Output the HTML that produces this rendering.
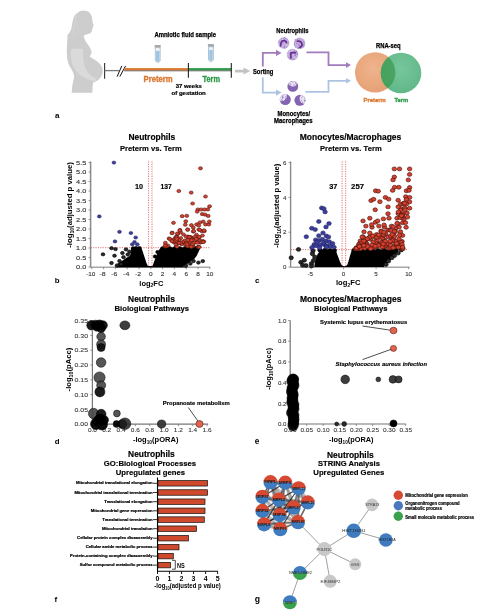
<!DOCTYPE html>
<html><head><meta charset="utf-8"><style>
html,body{margin:0;padding:0;background:#fff;width:496px;height:616px;overflow:hidden}
svg{display:block;font-family:"Liberation Sans", sans-serif;will-change:transform}
</style></head><body>
<svg width="496" height="616" viewBox="0 0 496 616" font-family="Liberation Sans, sans-serif">
<rect width="496" height="616" fill="#fff"/>
<path d="M83.6,10.5 C87.8,10.4 91.2,13.2 91.8,17 C92.3,19.3 92.6,21.6 92.9,23.3 L93.7,25.3 C93.5,26.2 92.7,26.6 92.7,27.4 C92.8,28.3 92.5,29 92.1,29.6 C91.9,31 91.5,32.4 90.6,32.9 C89.6,33.6 88.1,33.7 87.1,34.2 C85.9,34.7 84.4,35 83.7,35.8 C84.1,38 84.9,40 85.9,41.7 C87.9,44.5 90.3,47.5 91.1,50.3 C91.8,52.5 91.7,54 90.7,55 C90.1,55.6 89.6,56.2 90.3,57 C92.1,58.3 94.1,59.2 96.6,61 C100.1,63.5 102.4,66.5 102.7,69.8 C103,73.5 101.6,77 98.9,79.4 C97.1,80.9 95.1,81.8 93.1,82.6 C92.7,86 92.3,89.5 92.4,92.8 L71.7,92.8 C71.8,89.5 72.3,86.5 72.6,84 C73.2,81 74.2,78.5 74,76.3 C73.8,73.5 72.6,71 71,68.5 C69.2,65.8 67.6,62 67.1,57.5 C66.7,53.5 66.8,48 67.1,43.5 C67.3,40 67.4,37 67.6,34.8 C69.5,33 71,30.5 71.6,27.5 C72.2,24 72.6,20 73.8,17 C74.8,14.8 76,13.6 77.2,13.2 C78.8,11.5 81,10.6 83.6,10.5 Z" fill="#cdcdcd"/>
<path d="M77.6,13.6 C76,15.5 75.3,18.5 75,22 C74.7,26 73.9,30 72,33.2" fill="none" stroke="#dedede" stroke-width="0.5"/>
<path d="M76.6,21 C76.6,25 77.3,28.6 78.6,31 C76.5,33.5 74,35 71.6,36.2" fill="none" stroke="#d9d9d9" stroke-width="0.4"/>
<path d="M70.9,49.2 C74.5,48.2 79,48.2 82.9,48.9 C83,53 83.2,57 83.5,60.6 C84,64 84.8,67 86,69.6 C87.6,72.6 89.8,75 92.3,76.6 C93.8,77.6 95.3,78.3 96.7,78.8 L95.2,81.2 C92.8,81 90.7,80.4 89,79.6 C85.3,78.4 81.5,76.3 78.6,73.5 C75.5,70.5 72.8,67 71.8,63.3 C71,59 70.7,54 70.9,49.2 Z" fill="#dadada"/>
<line x1="104.60" y1="63.10" x2="104.60" y2="78.80" stroke="#333" stroke-width="1.1"/>
<line x1="104.60" y1="70.60" x2="119.00" y2="70.60" stroke="#777" stroke-width="1.3"/>
<line x1="117.10" y1="76.60" x2="121.80" y2="65.90" stroke="#111" stroke-width="1"/>
<line x1="119.80" y1="76.60" x2="125.60" y2="65.90" stroke="#111" stroke-width="1"/>
<rect x="124.2" y="70.2" width="107.1" height="1.1" fill="#666"/>
<rect x="124.2" y="68.1" width="64.2" height="2.2" fill="#d9772e"/>
<rect x="188.4" y="68.1" width="42.9" height="2.2" fill="#2e9a4a"/>
<line x1="188.40" y1="63.00" x2="188.40" y2="77.80" stroke="#222" stroke-width="1.1"/>
<line x1="231.30" y1="63.00" x2="231.30" y2="77.80" stroke="#222" stroke-width="1.1"/>
<path d="M235,69.7 L243.6,69.7 L243.6,67.6 L250.2,71.1 L243.6,74.6 L243.6,72.5 L235,72.5 Z" fill="#c2c2c2"/>
<rect x="154.70" y="44.90" width="6.1" height="2.6" rx="0.5" fill="#a9a9a9"/>
<path d="M155.30,47.50 L160.20,47.50 L160.20,60.70 Q157.75,64.10 155.30,60.70 Z" fill="#e8f1f8" stroke="#8da2b4" stroke-width="0.6"/>
<path d="M156.00,50.90 L159.50,50.90 L159.50,60.40 Q157.75,62.90 156.00,60.40 Z" fill="#9cc6e4"/>
<rect x="207.90" y="44.10" width="6.1" height="2.6" rx="0.5" fill="#a9a9a9"/>
<path d="M208.50,46.70 L213.40,46.70 L213.40,59.90 Q210.95,63.30 208.50,59.90 Z" fill="#e8f1f8" stroke="#8da2b4" stroke-width="0.6"/>
<path d="M209.20,50.10 L212.70,50.10 L212.70,59.60 Q210.95,62.10 209.20,59.60 Z" fill="#9cc6e4"/>
<text x="154.40" y="37.20" font-size="6.3" font-weight="bold" fill="#000" text-anchor="start" stroke="#000" stroke-width="0.25" textLength="61.60" lengthAdjust="spacingAndGlyphs">Amniotic fluid sample</text>
<text x="143.60" y="81.70" font-size="8.6" font-weight="bold" fill="#d9772e" text-anchor="start" stroke="#d9772e" stroke-width="0.35" textLength="29.10" lengthAdjust="spacingAndGlyphs">Preterm</text>
<text x="202.60" y="81.60" font-size="8.6" font-weight="bold" fill="#2e9a4a" text-anchor="start" stroke="#2e9a4a" stroke-width="0.35" textLength="17.40" lengthAdjust="spacingAndGlyphs">Term</text>
<text x="175.80" y="87.90" font-size="6.2" font-weight="bold" fill="#000" text-anchor="start" stroke="#000" stroke-width="0.2" textLength="25.90" lengthAdjust="spacingAndGlyphs">37 weeks</text>
<text x="171.50" y="94.70" font-size="6.2" font-weight="bold" fill="#000" text-anchor="start" stroke="#000" stroke-width="0.2" textLength="34.30" lengthAdjust="spacingAndGlyphs">of gestation</text>
<text x="253.00" y="74.20" font-size="6.4" font-weight="bold" fill="#000" text-anchor="start" stroke="#000" stroke-width="0.25" textLength="20.30" lengthAdjust="spacingAndGlyphs">Sorting</text>
<text x="276.30" y="32.70" font-size="6.4" font-weight="bold" fill="#000" text-anchor="start" stroke="#000" stroke-width="0.25" textLength="32.20" lengthAdjust="spacingAndGlyphs">Neutrophils</text>
<text x="277.60" y="116.20" font-size="6.4" font-weight="bold" fill="#000" text-anchor="start" stroke="#000" stroke-width="0.25" textLength="32.50" lengthAdjust="spacingAndGlyphs">Monocytes/</text>
<text x="274.10" y="123.30" font-size="6.4" font-weight="bold" fill="#000" text-anchor="start" stroke="#000" stroke-width="0.25" textLength="38.40" lengthAdjust="spacingAndGlyphs">Macrophages</text>
<text x="376.00" y="48.40" font-size="6.4" font-weight="bold" fill="#000" text-anchor="start" stroke="#000" stroke-width="0.25" textLength="24.60" lengthAdjust="spacingAndGlyphs">RNA-seq</text>
<text x="363.50" y="102.30" font-size="6.2" font-weight="bold" fill="#d9772e" text-anchor="start" stroke="#d9772e" stroke-width="0.3" textLength="22.30" lengthAdjust="spacingAndGlyphs">Preterm</text>
<text x="394.50" y="102.30" font-size="6.2" font-weight="bold" fill="#2e9a4a" text-anchor="start" stroke="#2e9a4a" stroke-width="0.3" textLength="13.80" lengthAdjust="spacingAndGlyphs">Term</text>
<text x="54.90" y="117.50" font-size="8" font-weight="bold" fill="#000" text-anchor="start">a</text>
<path d="M262.8,66.4 L262.8,52.9 L277,52.9" fill="none" stroke="#a27bbd" stroke-width="1.8"/>
<path d="M276,49.8 L281.6,52.9 L276,56 Z" fill="#a27bbd"/>
<path d="M262.8,77.5 L262.8,92.6 L277,92.6" fill="none" stroke="#adc3e3" stroke-width="1.8"/>
<path d="M276,89.5 L281.6,92.6 L276,95.7 Z" fill="#adc3e3"/>
<path d="M306.5,52.4 L328.5,52.4 L328.5,65.1 L346.5,65.1" fill="none" stroke="#a27bbd" stroke-width="1.8"/>
<path d="M346,62.3 L351,65.1 L346,67.9 Z" fill="#a27bbd"/>
<path d="M305.5,91.8 L328.5,91.8 L328.5,80.8 L346.5,80.8" fill="none" stroke="#adc3e3" stroke-width="1.8"/>
<path d="M346,78 L351,80.8 L346,83.6 Z" fill="#adc3e3"/>
<circle cx="283.70" cy="43.00" r="5.80" fill="#c3b1dd" stroke="none" stroke-width="0"/>
<circle cx="283.14" cy="42.33" r="0.42" fill="#a98bcc" stroke="none" stroke-width="0"/>
<circle cx="284.83" cy="44.36" r="0.54" fill="#9876c0" stroke="none" stroke-width="0"/>
<circle cx="282.87" cy="42.47" r="0.37" fill="#a98bcc" stroke="none" stroke-width="0"/>
<circle cx="282.80" cy="42.97" r="0.40" fill="#8e68b8" stroke="none" stroke-width="0"/>
<circle cx="284.48" cy="47.16" r="0.55" fill="#9876c0" stroke="none" stroke-width="0"/>
<circle cx="283.82" cy="40.80" r="0.46" fill="#e2d8ef" stroke="none" stroke-width="0"/>
<circle cx="286.72" cy="47.47" r="0.43" fill="#9876c0" stroke="none" stroke-width="0"/>
<circle cx="281.29" cy="45.26" r="0.44" fill="#e2d8ef" stroke="none" stroke-width="0"/>
<circle cx="285.35" cy="38.59" r="0.48" fill="#8e68b8" stroke="none" stroke-width="0"/>
<circle cx="286.33" cy="44.42" r="0.51" fill="#e2d8ef" stroke="none" stroke-width="0"/>
<circle cx="279.61" cy="40.84" r="0.36" fill="#a98bcc" stroke="none" stroke-width="0"/>
<circle cx="284.49" cy="37.59" r="0.56" fill="#9876c0" stroke="none" stroke-width="0"/>
<circle cx="280.99" cy="45.54" r="0.56" fill="#a98bcc" stroke="none" stroke-width="0"/>
<circle cx="281.97" cy="44.84" r="0.42" fill="#9876c0" stroke="none" stroke-width="0"/>
<circle cx="281.94" cy="41.56" r="0.53" fill="#a98bcc" stroke="none" stroke-width="0"/>
<circle cx="280.92" cy="43.67" r="0.58" fill="#a98bcc" stroke="none" stroke-width="0"/>
<circle cx="281.68" cy="38.36" r="0.54" fill="#a98bcc" stroke="none" stroke-width="0"/>
<circle cx="285.86" cy="38.55" r="0.45" fill="#9876c0" stroke="none" stroke-width="0"/>
<circle cx="285.00" cy="48.19" r="0.57" fill="#e2d8ef" stroke="none" stroke-width="0"/>
<circle cx="284.61" cy="46.79" r="0.57" fill="#8e68b8" stroke="none" stroke-width="0"/>
<circle cx="284.98" cy="44.61" r="0.54" fill="#e2d8ef" stroke="none" stroke-width="0"/>
<circle cx="283.63" cy="39.39" r="0.50" fill="#e2d8ef" stroke="none" stroke-width="0"/>
<circle cx="284.75" cy="48.40" r="0.48" fill="#9876c0" stroke="none" stroke-width="0"/>
<circle cx="283.89" cy="37.89" r="0.39" fill="#a98bcc" stroke="none" stroke-width="0"/>
<circle cx="284.64" cy="39.54" r="0.37" fill="#8e68b8" stroke="none" stroke-width="0"/>
<circle cx="280.59" cy="40.86" r="0.41" fill="#9876c0" stroke="none" stroke-width="0"/>
<circle cx="282.91" cy="41.31" r="0.57" fill="#e2d8ef" stroke="none" stroke-width="0"/>
<circle cx="284.07" cy="39.81" r="0.42" fill="#a98bcc" stroke="none" stroke-width="0"/>
<circle cx="278.54" cy="44.54" r="0.57" fill="#e2d8ef" stroke="none" stroke-width="0"/>
<circle cx="288.43" cy="42.15" r="0.48" fill="#9876c0" stroke="none" stroke-width="0"/>
<circle cx="285.77" cy="40.81" r="0.51" fill="#a98bcc" stroke="none" stroke-width="0"/>
<circle cx="286.46" cy="46.94" r="0.48" fill="#9876c0" stroke="none" stroke-width="0"/>
<circle cx="280.57" cy="40.76" r="0.38" fill="#e2d8ef" stroke="none" stroke-width="0"/>
<circle cx="287.34" cy="39.53" r="0.43" fill="#9876c0" stroke="none" stroke-width="0"/>
<circle cx="283.94" cy="47.14" r="0.37" fill="#8e68b8" stroke="none" stroke-width="0"/>
<circle cx="285.90" cy="38.01" r="0.48" fill="#a98bcc" stroke="none" stroke-width="0"/>
<circle cx="286.33" cy="45.74" r="0.49" fill="#e2d8ef" stroke="none" stroke-width="0"/>
<circle cx="279.47" cy="42.26" r="0.59" fill="#a98bcc" stroke="none" stroke-width="0"/>
<circle cx="282.90" cy="39.61" r="0.52" fill="#e2d8ef" stroke="none" stroke-width="0"/>
<circle cx="280.03" cy="44.50" r="0.38" fill="#a98bcc" stroke="none" stroke-width="0"/>
<path d="M280.6,45.8 C280.8,42.5 282,40.7 283.4,40.6 C285,40.5 286.2,41.5 286.5,42.7" fill="none" stroke="#6a2e92" stroke-width="1.7" stroke-linecap="round" stroke-linejoin="round"/>
<circle cx="299.50" cy="43.40" r="5.80" fill="#c3b1dd" stroke="none" stroke-width="0"/>
<circle cx="300.24" cy="43.71" r="0.49" fill="#a98bcc" stroke="none" stroke-width="0"/>
<circle cx="304.13" cy="43.61" r="0.36" fill="#9876c0" stroke="none" stroke-width="0"/>
<circle cx="303.73" cy="40.54" r="0.37" fill="#a98bcc" stroke="none" stroke-width="0"/>
<circle cx="298.82" cy="47.18" r="0.48" fill="#8e68b8" stroke="none" stroke-width="0"/>
<circle cx="299.67" cy="47.19" r="0.45" fill="#9876c0" stroke="none" stroke-width="0"/>
<circle cx="302.47" cy="45.47" r="0.46" fill="#8e68b8" stroke="none" stroke-width="0"/>
<circle cx="300.34" cy="42.43" r="0.51" fill="#9876c0" stroke="none" stroke-width="0"/>
<circle cx="303.87" cy="45.15" r="0.55" fill="#9876c0" stroke="none" stroke-width="0"/>
<circle cx="299.52" cy="45.80" r="0.46" fill="#8e68b8" stroke="none" stroke-width="0"/>
<circle cx="301.02" cy="46.83" r="0.57" fill="#9876c0" stroke="none" stroke-width="0"/>
<circle cx="294.71" cy="45.19" r="0.49" fill="#9876c0" stroke="none" stroke-width="0"/>
<circle cx="297.16" cy="40.09" r="0.35" fill="#9876c0" stroke="none" stroke-width="0"/>
<circle cx="304.04" cy="41.13" r="0.39" fill="#8e68b8" stroke="none" stroke-width="0"/>
<circle cx="294.41" cy="44.00" r="0.58" fill="#a98bcc" stroke="none" stroke-width="0"/>
<circle cx="295.54" cy="47.17" r="0.42" fill="#8e68b8" stroke="none" stroke-width="0"/>
<circle cx="298.49" cy="47.89" r="0.53" fill="#8e68b8" stroke="none" stroke-width="0"/>
<circle cx="301.19" cy="45.88" r="0.59" fill="#9876c0" stroke="none" stroke-width="0"/>
<circle cx="299.48" cy="42.08" r="0.50" fill="#a98bcc" stroke="none" stroke-width="0"/>
<circle cx="303.18" cy="44.77" r="0.56" fill="#9876c0" stroke="none" stroke-width="0"/>
<circle cx="295.76" cy="40.85" r="0.41" fill="#9876c0" stroke="none" stroke-width="0"/>
<circle cx="303.38" cy="41.91" r="0.49" fill="#9876c0" stroke="none" stroke-width="0"/>
<circle cx="296.89" cy="40.97" r="0.50" fill="#e2d8ef" stroke="none" stroke-width="0"/>
<circle cx="301.78" cy="42.41" r="0.53" fill="#a98bcc" stroke="none" stroke-width="0"/>
<circle cx="299.30" cy="45.38" r="0.51" fill="#8e68b8" stroke="none" stroke-width="0"/>
<circle cx="297.57" cy="47.77" r="0.37" fill="#8e68b8" stroke="none" stroke-width="0"/>
<circle cx="296.51" cy="40.55" r="0.37" fill="#a98bcc" stroke="none" stroke-width="0"/>
<circle cx="297.50" cy="43.33" r="0.44" fill="#9876c0" stroke="none" stroke-width="0"/>
<circle cx="301.93" cy="41.10" r="0.39" fill="#e2d8ef" stroke="none" stroke-width="0"/>
<circle cx="295.32" cy="39.87" r="0.51" fill="#9876c0" stroke="none" stroke-width="0"/>
<circle cx="297.48" cy="39.83" r="0.58" fill="#9876c0" stroke="none" stroke-width="0"/>
<circle cx="301.37" cy="42.64" r="0.38" fill="#9876c0" stroke="none" stroke-width="0"/>
<circle cx="299.40" cy="41.23" r="0.42" fill="#a98bcc" stroke="none" stroke-width="0"/>
<circle cx="299.00" cy="40.97" r="0.51" fill="#e2d8ef" stroke="none" stroke-width="0"/>
<circle cx="296.74" cy="43.31" r="0.58" fill="#9876c0" stroke="none" stroke-width="0"/>
<circle cx="302.50" cy="45.37" r="0.42" fill="#9876c0" stroke="none" stroke-width="0"/>
<circle cx="298.50" cy="45.12" r="0.59" fill="#a98bcc" stroke="none" stroke-width="0"/>
<circle cx="299.27" cy="39.31" r="0.46" fill="#9876c0" stroke="none" stroke-width="0"/>
<circle cx="303.59" cy="46.86" r="0.52" fill="#a98bcc" stroke="none" stroke-width="0"/>
<circle cx="294.67" cy="41.98" r="0.50" fill="#a98bcc" stroke="none" stroke-width="0"/>
<circle cx="298.48" cy="43.88" r="0.44" fill="#9876c0" stroke="none" stroke-width="0"/>
<path d="M297.3,41.2 C299.5,40.6 301.6,41.8 302,43.8 C302.2,45.5 301.3,46.8 299.9,47.6" fill="none" stroke="#6a2e92" stroke-width="1.7" stroke-linecap="round" stroke-linejoin="round"/>
<circle cx="292.50" cy="54.60" r="5.80" fill="#c3b1dd" stroke="none" stroke-width="0"/>
<circle cx="294.53" cy="53.10" r="0.41" fill="#9876c0" stroke="none" stroke-width="0"/>
<circle cx="290.00" cy="57.88" r="0.57" fill="#a98bcc" stroke="none" stroke-width="0"/>
<circle cx="294.89" cy="53.39" r="0.39" fill="#a98bcc" stroke="none" stroke-width="0"/>
<circle cx="293.14" cy="54.01" r="0.53" fill="#e2d8ef" stroke="none" stroke-width="0"/>
<circle cx="293.21" cy="51.14" r="0.52" fill="#a98bcc" stroke="none" stroke-width="0"/>
<circle cx="291.98" cy="59.46" r="0.38" fill="#9876c0" stroke="none" stroke-width="0"/>
<circle cx="294.14" cy="52.58" r="0.55" fill="#8e68b8" stroke="none" stroke-width="0"/>
<circle cx="289.57" cy="58.64" r="0.57" fill="#a98bcc" stroke="none" stroke-width="0"/>
<circle cx="294.89" cy="54.96" r="0.43" fill="#9876c0" stroke="none" stroke-width="0"/>
<circle cx="295.35" cy="54.00" r="0.51" fill="#8e68b8" stroke="none" stroke-width="0"/>
<circle cx="290.33" cy="50.03" r="0.43" fill="#9876c0" stroke="none" stroke-width="0"/>
<circle cx="296.56" cy="58.20" r="0.39" fill="#e2d8ef" stroke="none" stroke-width="0"/>
<circle cx="296.63" cy="55.61" r="0.44" fill="#e2d8ef" stroke="none" stroke-width="0"/>
<circle cx="287.46" cy="56.73" r="0.38" fill="#a98bcc" stroke="none" stroke-width="0"/>
<circle cx="292.36" cy="59.24" r="0.35" fill="#a98bcc" stroke="none" stroke-width="0"/>
<circle cx="291.54" cy="55.70" r="0.52" fill="#e2d8ef" stroke="none" stroke-width="0"/>
<circle cx="289.29" cy="51.46" r="0.38" fill="#e2d8ef" stroke="none" stroke-width="0"/>
<circle cx="288.00" cy="54.40" r="0.43" fill="#e2d8ef" stroke="none" stroke-width="0"/>
<circle cx="290.23" cy="53.79" r="0.52" fill="#8e68b8" stroke="none" stroke-width="0"/>
<circle cx="290.19" cy="49.90" r="0.50" fill="#e2d8ef" stroke="none" stroke-width="0"/>
<circle cx="288.32" cy="57.40" r="0.43" fill="#a98bcc" stroke="none" stroke-width="0"/>
<circle cx="288.70" cy="56.39" r="0.51" fill="#8e68b8" stroke="none" stroke-width="0"/>
<circle cx="288.27" cy="56.22" r="0.48" fill="#a98bcc" stroke="none" stroke-width="0"/>
<circle cx="290.91" cy="52.13" r="0.52" fill="#e2d8ef" stroke="none" stroke-width="0"/>
<circle cx="296.98" cy="57.58" r="0.41" fill="#e2d8ef" stroke="none" stroke-width="0"/>
<circle cx="292.89" cy="57.03" r="0.36" fill="#a98bcc" stroke="none" stroke-width="0"/>
<circle cx="296.79" cy="54.17" r="0.54" fill="#8e68b8" stroke="none" stroke-width="0"/>
<circle cx="288.74" cy="56.84" r="0.40" fill="#8e68b8" stroke="none" stroke-width="0"/>
<circle cx="289.78" cy="54.70" r="0.51" fill="#9876c0" stroke="none" stroke-width="0"/>
<circle cx="296.49" cy="51.41" r="0.57" fill="#8e68b8" stroke="none" stroke-width="0"/>
<circle cx="293.46" cy="59.45" r="0.52" fill="#8e68b8" stroke="none" stroke-width="0"/>
<circle cx="295.11" cy="55.45" r="0.56" fill="#8e68b8" stroke="none" stroke-width="0"/>
<circle cx="295.01" cy="57.39" r="0.48" fill="#e2d8ef" stroke="none" stroke-width="0"/>
<circle cx="297.45" cy="52.99" r="0.50" fill="#8e68b8" stroke="none" stroke-width="0"/>
<circle cx="294.48" cy="51.03" r="0.57" fill="#8e68b8" stroke="none" stroke-width="0"/>
<circle cx="287.96" cy="56.07" r="0.56" fill="#e2d8ef" stroke="none" stroke-width="0"/>
<circle cx="292.89" cy="50.64" r="0.51" fill="#e2d8ef" stroke="none" stroke-width="0"/>
<circle cx="288.17" cy="56.32" r="0.41" fill="#e2d8ef" stroke="none" stroke-width="0"/>
<circle cx="290.78" cy="58.27" r="0.38" fill="#a98bcc" stroke="none" stroke-width="0"/>
<circle cx="290.90" cy="56.04" r="0.40" fill="#8e68b8" stroke="none" stroke-width="0"/>
<path d="M290.9,58 L290.8,52.8 L295.4,52.7" fill="none" stroke="#6a2e92" stroke-width="1.7" stroke-linecap="round" stroke-linejoin="round"/>
<clipPath id="mc29286"><circle cx="292.8" cy="86.4" r="5.4"/></clipPath>
<circle cx="292.80" cy="86.40" r="5.40" fill="#8363b2" stroke="none" stroke-width="0"/>
<g clip-path="url(#mc29286)">
<circle cx="292.80" cy="81.27" r="5.13" fill="#e9e2f2" stroke="none" stroke-width="0"/>
<circle cx="289.64" cy="83.34" r="0.45" fill="#7b54aa" stroke="none" stroke-width="0"/>
<circle cx="294.39" cy="78.49" r="0.54" fill="#6a4699" stroke="none" stroke-width="0"/>
<circle cx="297.58" cy="81.86" r="0.49" fill="#9a7cc4" stroke="none" stroke-width="0"/>
<circle cx="295.84" cy="81.38" r="0.54" fill="#9a7cc4" stroke="none" stroke-width="0"/>
<circle cx="288.53" cy="80.22" r="0.55" fill="#7b54aa" stroke="none" stroke-width="0"/>
<circle cx="290.13" cy="81.47" r="0.47" fill="#9a7cc4" stroke="none" stroke-width="0"/>
<circle cx="290.62" cy="84.89" r="0.45" fill="#7b54aa" stroke="none" stroke-width="0"/>
<circle cx="295.45" cy="77.12" r="0.60" fill="#6a4699" stroke="none" stroke-width="0"/>
<circle cx="295.97" cy="81.81" r="0.49" fill="#7b54aa" stroke="none" stroke-width="0"/>
<circle cx="295.70" cy="82.96" r="0.57" fill="#7b54aa" stroke="none" stroke-width="0"/>
<circle cx="295.80" cy="82.25" r="0.40" fill="#9a7cc4" stroke="none" stroke-width="0"/>
<circle cx="290.29" cy="85.37" r="0.42" fill="#9a7cc4" stroke="none" stroke-width="0"/>
<circle cx="292.78" cy="82.74" r="0.35" fill="#6a4699" stroke="none" stroke-width="0"/>
<circle cx="297.54" cy="82.88" r="0.41" fill="#7b54aa" stroke="none" stroke-width="0"/>
<circle cx="293.61" cy="77.21" r="0.54" fill="#7b54aa" stroke="none" stroke-width="0"/>
<circle cx="293.03" cy="81.97" r="0.39" fill="#7b54aa" stroke="none" stroke-width="0"/>
<circle cx="291.09" cy="81.56" r="0.59" fill="#9a7cc4" stroke="none" stroke-width="0"/>
<circle cx="291.40" cy="77.00" r="0.39" fill="#6a4699" stroke="none" stroke-width="0"/>
<circle cx="297.04" cy="80.29" r="0.54" fill="#7b54aa" stroke="none" stroke-width="0"/>
<circle cx="294.45" cy="80.90" r="0.36" fill="#9a7cc4" stroke="none" stroke-width="0"/>
<circle cx="288.46" cy="79.03" r="0.44" fill="#6a4699" stroke="none" stroke-width="0"/>
<circle cx="294.06" cy="85.01" r="0.56" fill="#7b54aa" stroke="none" stroke-width="0"/>
<circle cx="296.42" cy="83.96" r="0.56" fill="#6a4699" stroke="none" stroke-width="0"/>
<circle cx="294.36" cy="76.97" r="0.49" fill="#7b54aa" stroke="none" stroke-width="0"/>
<circle cx="290.87" cy="84.02" r="0.44" fill="#6a4699" stroke="none" stroke-width="0"/>
<circle cx="292.45" cy="80.81" r="0.46" fill="#9a7cc4" stroke="none" stroke-width="0"/>
</g>
<clipPath id="mc28599"><circle cx="285.3" cy="99.6" r="5.5"/></clipPath>
<circle cx="285.30" cy="99.60" r="5.50" fill="#8363b2" stroke="none" stroke-width="0"/>
<g clip-path="url(#mc28599)">
<circle cx="281.61" cy="95.91" r="5.22" fill="#e9e2f2" stroke="none" stroke-width="0"/>
<circle cx="285.64" cy="99.06" r="0.51" fill="#9a7cc4" stroke="none" stroke-width="0"/>
<circle cx="280.69" cy="92.58" r="0.53" fill="#6a4699" stroke="none" stroke-width="0"/>
<circle cx="281.01" cy="100.57" r="0.48" fill="#9a7cc4" stroke="none" stroke-width="0"/>
<circle cx="276.97" cy="96.94" r="0.50" fill="#9a7cc4" stroke="none" stroke-width="0"/>
<circle cx="284.45" cy="92.08" r="0.37" fill="#9a7cc4" stroke="none" stroke-width="0"/>
<circle cx="281.74" cy="99.46" r="0.50" fill="#9a7cc4" stroke="none" stroke-width="0"/>
<circle cx="279.71" cy="99.05" r="0.43" fill="#9a7cc4" stroke="none" stroke-width="0"/>
<circle cx="282.71" cy="100.44" r="0.44" fill="#6a4699" stroke="none" stroke-width="0"/>
<circle cx="280.78" cy="93.29" r="0.35" fill="#7b54aa" stroke="none" stroke-width="0"/>
<circle cx="285.41" cy="98.18" r="0.47" fill="#7b54aa" stroke="none" stroke-width="0"/>
<circle cx="280.07" cy="92.00" r="0.47" fill="#7b54aa" stroke="none" stroke-width="0"/>
<circle cx="283.66" cy="97.26" r="0.52" fill="#9a7cc4" stroke="none" stroke-width="0"/>
<circle cx="279.97" cy="93.18" r="0.49" fill="#9a7cc4" stroke="none" stroke-width="0"/>
<circle cx="277.58" cy="97.94" r="0.43" fill="#6a4699" stroke="none" stroke-width="0"/>
<circle cx="278.83" cy="96.73" r="0.41" fill="#6a4699" stroke="none" stroke-width="0"/>
<circle cx="282.24" cy="97.60" r="0.48" fill="#6a4699" stroke="none" stroke-width="0"/>
<circle cx="282.57" cy="98.14" r="0.47" fill="#6a4699" stroke="none" stroke-width="0"/>
<circle cx="277.75" cy="93.47" r="0.50" fill="#7b54aa" stroke="none" stroke-width="0"/>
<circle cx="283.02" cy="93.44" r="0.44" fill="#9a7cc4" stroke="none" stroke-width="0"/>
<circle cx="285.41" cy="96.24" r="0.42" fill="#7b54aa" stroke="none" stroke-width="0"/>
<circle cx="277.48" cy="94.47" r="0.38" fill="#9a7cc4" stroke="none" stroke-width="0"/>
<circle cx="282.07" cy="96.25" r="0.42" fill="#9a7cc4" stroke="none" stroke-width="0"/>
<circle cx="279.52" cy="96.73" r="0.36" fill="#9a7cc4" stroke="none" stroke-width="0"/>
<circle cx="282.61" cy="96.78" r="0.47" fill="#6a4699" stroke="none" stroke-width="0"/>
<circle cx="280.77" cy="95.03" r="0.39" fill="#6a4699" stroke="none" stroke-width="0"/>
<circle cx="283.05" cy="95.43" r="0.41" fill="#6a4699" stroke="none" stroke-width="0"/>
</g>
<clipPath id="mc299100"><circle cx="299.9" cy="100.3" r="5.5"/></clipPath>
<circle cx="299.90" cy="100.30" r="5.50" fill="#8363b2" stroke="none" stroke-width="0"/>
<g clip-path="url(#mc299100)">
<circle cx="304.81" cy="98.51" r="5.22" fill="#e9e2f2" stroke="none" stroke-width="0"/>
<circle cx="305.18" cy="94.46" r="0.55" fill="#7b54aa" stroke="none" stroke-width="0"/>
<circle cx="305.33" cy="95.33" r="0.58" fill="#9a7cc4" stroke="none" stroke-width="0"/>
<circle cx="308.13" cy="94.51" r="0.43" fill="#6a4699" stroke="none" stroke-width="0"/>
<circle cx="309.57" cy="100.40" r="0.37" fill="#7b54aa" stroke="none" stroke-width="0"/>
<circle cx="302.92" cy="96.61" r="0.37" fill="#7b54aa" stroke="none" stroke-width="0"/>
<circle cx="305.47" cy="99.78" r="0.35" fill="#9a7cc4" stroke="none" stroke-width="0"/>
<circle cx="303.48" cy="95.19" r="0.36" fill="#9a7cc4" stroke="none" stroke-width="0"/>
<circle cx="303.64" cy="94.29" r="0.46" fill="#6a4699" stroke="none" stroke-width="0"/>
<circle cx="305.09" cy="101.19" r="0.55" fill="#6a4699" stroke="none" stroke-width="0"/>
<circle cx="302.14" cy="94.23" r="0.46" fill="#6a4699" stroke="none" stroke-width="0"/>
<circle cx="305.13" cy="100.50" r="0.42" fill="#7b54aa" stroke="none" stroke-width="0"/>
<circle cx="306.73" cy="99.44" r="0.43" fill="#6a4699" stroke="none" stroke-width="0"/>
<circle cx="307.07" cy="94.03" r="0.46" fill="#9a7cc4" stroke="none" stroke-width="0"/>
<circle cx="303.17" cy="94.46" r="0.59" fill="#6a4699" stroke="none" stroke-width="0"/>
<circle cx="301.46" cy="97.65" r="0.50" fill="#9a7cc4" stroke="none" stroke-width="0"/>
<circle cx="304.42" cy="94.47" r="0.36" fill="#7b54aa" stroke="none" stroke-width="0"/>
<circle cx="309.45" cy="97.38" r="0.49" fill="#7b54aa" stroke="none" stroke-width="0"/>
<circle cx="309.09" cy="98.50" r="0.42" fill="#7b54aa" stroke="none" stroke-width="0"/>
<circle cx="304.99" cy="96.33" r="0.48" fill="#9a7cc4" stroke="none" stroke-width="0"/>
<circle cx="306.73" cy="97.39" r="0.50" fill="#6a4699" stroke="none" stroke-width="0"/>
<circle cx="306.83" cy="93.78" r="0.47" fill="#9a7cc4" stroke="none" stroke-width="0"/>
<circle cx="302.67" cy="102.22" r="0.56" fill="#9a7cc4" stroke="none" stroke-width="0"/>
<circle cx="301.68" cy="100.45" r="0.52" fill="#9a7cc4" stroke="none" stroke-width="0"/>
<circle cx="306.32" cy="94.94" r="0.46" fill="#9a7cc4" stroke="none" stroke-width="0"/>
<circle cx="304.78" cy="100.29" r="0.54" fill="#6a4699" stroke="none" stroke-width="0"/>
<circle cx="304.89" cy="98.35" r="0.57" fill="#9a7cc4" stroke="none" stroke-width="0"/>
</g>
<defs><radialGradient id="go" cx="0.45" cy="0.4" r="0.6"><stop offset="0" stop-color="#efb48e"/><stop offset="1" stop-color="#e6a175"/></radialGradient><radialGradient id="gg" cx="0.5" cy="0.4" r="0.6"><stop offset="0" stop-color="#6dc296"/><stop offset="1" stop-color="#55b27f"/></radialGradient></defs>
<circle cx="375.20" cy="72.40" r="20.20" fill="url(#go)" stroke="none" stroke-width="0"/>
<circle cx="401.00" cy="73.00" r="20.30" fill="url(#gg)" stroke="none" stroke-width="0" opacity="0.93"/>
<path d="M388.38,57.1 A20.2,20.2 0 0 1 387.66,88.3 A20.3,20.3 0 0 1 388.38,57.1 Z" fill="#3a9a50" opacity="0.7"/>
<line x1="90.60" y1="161.50" x2="90.60" y2="267.50" stroke="#8a8a8a" stroke-width="1.5"/>
<line x1="88.60" y1="267.00" x2="90.60" y2="267.00" stroke="#777" stroke-width="0.8"/>
<text x="86.30" y="269.20" font-size="6.2" font-weight="normal" fill="#333" text-anchor="end" stroke="#333" stroke-width="0.12" textLength="10.20" lengthAdjust="spacingAndGlyphs">0.0</text>
<line x1="88.60" y1="257.50" x2="90.60" y2="257.50" stroke="#777" stroke-width="0.8"/>
<text x="86.30" y="259.70" font-size="6.2" font-weight="normal" fill="#333" text-anchor="end" stroke="#333" stroke-width="0.12" textLength="10.20" lengthAdjust="spacingAndGlyphs">0.5</text>
<line x1="88.60" y1="248.00" x2="90.60" y2="248.00" stroke="#777" stroke-width="0.8"/>
<text x="86.30" y="250.20" font-size="6.2" font-weight="normal" fill="#333" text-anchor="end" stroke="#333" stroke-width="0.12" textLength="10.20" lengthAdjust="spacingAndGlyphs">1.0</text>
<line x1="88.60" y1="238.50" x2="90.60" y2="238.50" stroke="#777" stroke-width="0.8"/>
<text x="86.30" y="240.70" font-size="6.2" font-weight="normal" fill="#333" text-anchor="end" stroke="#333" stroke-width="0.12" textLength="10.20" lengthAdjust="spacingAndGlyphs">1.5</text>
<line x1="88.60" y1="229.00" x2="90.60" y2="229.00" stroke="#777" stroke-width="0.8"/>
<text x="86.30" y="231.20" font-size="6.2" font-weight="normal" fill="#333" text-anchor="end" stroke="#333" stroke-width="0.12" textLength="10.20" lengthAdjust="spacingAndGlyphs">2.0</text>
<line x1="88.60" y1="219.50" x2="90.60" y2="219.50" stroke="#777" stroke-width="0.8"/>
<text x="86.30" y="221.70" font-size="6.2" font-weight="normal" fill="#333" text-anchor="end" stroke="#333" stroke-width="0.12" textLength="10.20" lengthAdjust="spacingAndGlyphs">2.5</text>
<line x1="88.60" y1="210.00" x2="90.60" y2="210.00" stroke="#777" stroke-width="0.8"/>
<text x="86.30" y="212.20" font-size="6.2" font-weight="normal" fill="#333" text-anchor="end" stroke="#333" stroke-width="0.12" textLength="10.20" lengthAdjust="spacingAndGlyphs">3.0</text>
<line x1="88.60" y1="200.50" x2="90.60" y2="200.50" stroke="#777" stroke-width="0.8"/>
<text x="86.30" y="202.70" font-size="6.2" font-weight="normal" fill="#333" text-anchor="end" stroke="#333" stroke-width="0.12" textLength="10.20" lengthAdjust="spacingAndGlyphs">3.5</text>
<line x1="88.60" y1="191.00" x2="90.60" y2="191.00" stroke="#777" stroke-width="0.8"/>
<text x="86.30" y="193.20" font-size="6.2" font-weight="normal" fill="#333" text-anchor="end" stroke="#333" stroke-width="0.12" textLength="10.20" lengthAdjust="spacingAndGlyphs">4.0</text>
<line x1="88.60" y1="181.50" x2="90.60" y2="181.50" stroke="#777" stroke-width="0.8"/>
<text x="86.30" y="183.70" font-size="6.2" font-weight="normal" fill="#333" text-anchor="end" stroke="#333" stroke-width="0.12" textLength="10.20" lengthAdjust="spacingAndGlyphs">4.5</text>
<line x1="88.60" y1="172.00" x2="90.60" y2="172.00" stroke="#777" stroke-width="0.8"/>
<text x="86.30" y="174.20" font-size="6.2" font-weight="normal" fill="#333" text-anchor="end" stroke="#333" stroke-width="0.12" textLength="10.20" lengthAdjust="spacingAndGlyphs">5.0</text>
<line x1="88.60" y1="162.50" x2="90.60" y2="162.50" stroke="#777" stroke-width="0.8"/>
<text x="86.30" y="164.70" font-size="6.2" font-weight="normal" fill="#333" text-anchor="end" stroke="#333" stroke-width="0.12" textLength="10.20" lengthAdjust="spacingAndGlyphs">5.5</text>
<line x1="90.60" y1="267.20" x2="210.20" y2="267.20" stroke="#a8a8a8" stroke-width="1.4"/>
<line x1="91.80" y1="267.20" x2="91.80" y2="269.20" stroke="#777" stroke-width="0.8"/>
<text x="90.80" y="275.80" font-size="6" font-weight="normal" fill="#333" text-anchor="middle" stroke="#333" stroke-width="0.1" textLength="9.20" lengthAdjust="spacingAndGlyphs">-10</text>
<line x1="103.60" y1="267.20" x2="103.60" y2="269.20" stroke="#777" stroke-width="0.8"/>
<text x="102.60" y="275.80" font-size="6" font-weight="normal" fill="#333" text-anchor="middle" stroke="#333" stroke-width="0.1" textLength="6.20" lengthAdjust="spacingAndGlyphs">-8</text>
<line x1="115.40" y1="267.20" x2="115.40" y2="269.20" stroke="#777" stroke-width="0.8"/>
<text x="114.40" y="275.80" font-size="6" font-weight="normal" fill="#333" text-anchor="middle" stroke="#333" stroke-width="0.1" textLength="6.20" lengthAdjust="spacingAndGlyphs">-6</text>
<line x1="127.20" y1="267.20" x2="127.20" y2="269.20" stroke="#777" stroke-width="0.8"/>
<text x="126.20" y="275.80" font-size="6" font-weight="normal" fill="#333" text-anchor="middle" stroke="#333" stroke-width="0.1" textLength="6.20" lengthAdjust="spacingAndGlyphs">-4</text>
<line x1="139.00" y1="267.20" x2="139.00" y2="269.20" stroke="#777" stroke-width="0.8"/>
<text x="138.00" y="275.80" font-size="6" font-weight="normal" fill="#333" text-anchor="middle" stroke="#333" stroke-width="0.1" textLength="6.20" lengthAdjust="spacingAndGlyphs">-2</text>
<line x1="150.80" y1="267.20" x2="150.80" y2="269.20" stroke="#777" stroke-width="0.8"/>
<text x="150.80" y="275.80" font-size="6" font-weight="normal" fill="#333" text-anchor="middle" stroke="#333" stroke-width="0.1" textLength="3.60" lengthAdjust="spacingAndGlyphs">0</text>
<line x1="162.60" y1="267.20" x2="162.60" y2="269.20" stroke="#777" stroke-width="0.8"/>
<text x="162.60" y="275.80" font-size="6" font-weight="normal" fill="#333" text-anchor="middle" stroke="#333" stroke-width="0.1" textLength="3.60" lengthAdjust="spacingAndGlyphs">2</text>
<line x1="174.40" y1="267.20" x2="174.40" y2="269.20" stroke="#777" stroke-width="0.8"/>
<text x="174.40" y="275.80" font-size="6" font-weight="normal" fill="#333" text-anchor="middle" stroke="#333" stroke-width="0.1" textLength="3.60" lengthAdjust="spacingAndGlyphs">4</text>
<line x1="186.20" y1="267.20" x2="186.20" y2="269.20" stroke="#777" stroke-width="0.8"/>
<text x="186.20" y="275.80" font-size="6" font-weight="normal" fill="#333" text-anchor="middle" stroke="#333" stroke-width="0.1" textLength="3.60" lengthAdjust="spacingAndGlyphs">6</text>
<line x1="198.00" y1="267.20" x2="198.00" y2="269.20" stroke="#777" stroke-width="0.8"/>
<text x="198.00" y="275.80" font-size="6" font-weight="normal" fill="#333" text-anchor="middle" stroke="#333" stroke-width="0.1" textLength="3.60" lengthAdjust="spacingAndGlyphs">8</text>
<line x1="209.80" y1="267.20" x2="209.80" y2="269.20" stroke="#777" stroke-width="0.8"/>
<text x="209.80" y="275.80" font-size="6" font-weight="normal" fill="#333" text-anchor="middle" stroke="#333" stroke-width="0.1" textLength="7.20" lengthAdjust="spacingAndGlyphs">10</text>
<g stroke="#d9534f" stroke-width="0.8" stroke-dasharray="1.2,1.2" fill="none"><line x1="148.6" y1="161.4" x2="148.6" y2="267"/><line x1="152" y1="161.4" x2="152" y2="267"/><line x1="90.6" y1="247.7" x2="209.3" y2="247.7"/></g>
<path d="M115.5,267 L116.5,264.5 L120,262.2 L124,259.5 L127,257.5 L130,255.8 L130.8,252 L131.2,248.6 L132.6,247.5 L140.6,247.5 L141.8,248.8 L143.2,253 L145,258.5 L146.8,264 L148,266 L152.5,266 L153.8,262.5 L155.6,257.5 L157.6,252.5 L159.6,249 L161.2,247.6 L198.8,247.6 L199.4,249.2 L198.4,252.2 L196.6,256 L194,259.2 L191.1,261.3 L188.5,263 L186.3,264.5 L184.5,265.8 L183,267 Z" fill="#000"/>
<path d="M115.5,267.2 L186.6,267.2" stroke="#000" stroke-width="0.6"/>
<ellipse cx="103.00" cy="254.30" rx="1.90" ry="1.65" fill="#2a2a2a" stroke="#000" stroke-width="0.6"/>
<ellipse cx="111.50" cy="248.20" rx="1.90" ry="1.65" fill="#2a2a2a" stroke="#000" stroke-width="0.6"/>
<ellipse cx="115.50" cy="249.10" rx="1.90" ry="1.65" fill="#2a2a2a" stroke="#000" stroke-width="0.6"/>
<ellipse cx="114.50" cy="255.70" rx="1.90" ry="1.65" fill="#2a2a2a" stroke="#000" stroke-width="0.6"/>
<ellipse cx="111.50" cy="263.00" rx="1.90" ry="1.65" fill="#2a2a2a" stroke="#000" stroke-width="0.6"/>
<ellipse cx="122.40" cy="253.00" rx="1.90" ry="1.65" fill="#2a2a2a" stroke="#000" stroke-width="0.6"/>
<ellipse cx="126.00" cy="249.40" rx="1.90" ry="1.65" fill="#2a2a2a" stroke="#000" stroke-width="0.6"/>
<ellipse cx="117.00" cy="265.40" rx="1.90" ry="1.65" fill="#2a2a2a" stroke="#000" stroke-width="0.6"/>
<ellipse cx="119.50" cy="261.00" rx="1.90" ry="1.65" fill="#2a2a2a" stroke="#000" stroke-width="0.6"/>
<ellipse cx="123.50" cy="257.20" rx="1.90" ry="1.65" fill="#2a2a2a" stroke="#000" stroke-width="0.6"/>
<ellipse cx="127.80" cy="254.50" rx="1.90" ry="1.65" fill="#2a2a2a" stroke="#000" stroke-width="0.6"/>
<ellipse cx="121.00" cy="264.20" rx="1.90" ry="1.65" fill="#2a2a2a" stroke="#000" stroke-width="0.6"/>
<ellipse cx="129.50" cy="251.60" rx="1.90" ry="1.65" fill="#2a2a2a" stroke="#000" stroke-width="0.6"/>
<ellipse cx="198.40" cy="262.60" rx="1.90" ry="1.65" fill="#2a2a2a" stroke="#000" stroke-width="0.6"/>
<ellipse cx="202.80" cy="261.10" rx="1.90" ry="1.65" fill="#2a2a2a" stroke="#000" stroke-width="0.6"/>
<ellipse cx="190.30" cy="263.60" rx="1.90" ry="1.65" fill="#2a2a2a" stroke="#000" stroke-width="0.6"/>
<ellipse cx="186.00" cy="265.60" rx="1.90" ry="1.65" fill="#2a2a2a" stroke="#000" stroke-width="0.6"/>
<ellipse cx="193.50" cy="261.00" rx="1.90" ry="1.65" fill="#2a2a2a" stroke="#000" stroke-width="0.6"/>
<ellipse cx="133.00" cy="248.20" rx="1.90" ry="1.65" fill="#000" stroke="#000" stroke-width="0.4"/>
<ellipse cx="136.00" cy="247.90" rx="1.90" ry="1.65" fill="#000" stroke="#000" stroke-width="0.4"/>
<ellipse cx="139.50" cy="248.00" rx="1.90" ry="1.65" fill="#000" stroke="#000" stroke-width="0.4"/>
<ellipse cx="162.50" cy="248.20" rx="1.90" ry="1.65" fill="#000" stroke="#000" stroke-width="0.4"/>
<ellipse cx="166.00" cy="247.90" rx="1.90" ry="1.65" fill="#000" stroke="#000" stroke-width="0.4"/>
<ellipse cx="170.00" cy="248.10" rx="1.90" ry="1.65" fill="#000" stroke="#000" stroke-width="0.4"/>
<ellipse cx="175.00" cy="247.90" rx="1.90" ry="1.65" fill="#000" stroke="#000" stroke-width="0.4"/>
<ellipse cx="180.00" cy="248.10" rx="1.90" ry="1.65" fill="#000" stroke="#000" stroke-width="0.4"/>
<ellipse cx="185.00" cy="247.90" rx="1.90" ry="1.65" fill="#000" stroke="#000" stroke-width="0.4"/>
<ellipse cx="190.00" cy="248.10" rx="1.90" ry="1.65" fill="#000" stroke="#000" stroke-width="0.4"/>
<ellipse cx="195.00" cy="248.00" rx="1.90" ry="1.65" fill="#000" stroke="#000" stroke-width="0.4"/>
<ellipse cx="197.50" cy="249.30" rx="1.90" ry="1.65" fill="#000" stroke="#000" stroke-width="0.4"/>
<ellipse cx="155.00" cy="256.50" rx="1.90" ry="1.65" fill="#000" stroke="#000" stroke-width="0.4"/>
<ellipse cx="157.50" cy="252.00" rx="1.90" ry="1.65" fill="#000" stroke="#000" stroke-width="0.4"/>
<ellipse cx="113.90" cy="162.60" rx="1.90" ry="1.60" fill="#3d3f9e" stroke="#1c1d55" stroke-width="0.5"/>
<ellipse cx="99.30" cy="216.40" rx="1.90" ry="1.60" fill="#3d3f9e" stroke="#1c1d55" stroke-width="0.5"/>
<ellipse cx="119.50" cy="231.80" rx="1.90" ry="1.60" fill="#3d3f9e" stroke="#1c1d55" stroke-width="0.5"/>
<ellipse cx="130.90" cy="233.00" rx="1.90" ry="1.60" fill="#3d3f9e" stroke="#1c1d55" stroke-width="0.5"/>
<ellipse cx="135.70" cy="237.50" rx="1.90" ry="1.60" fill="#3d3f9e" stroke="#1c1d55" stroke-width="0.5"/>
<ellipse cx="115.00" cy="241.40" rx="1.90" ry="1.60" fill="#3d3f9e" stroke="#1c1d55" stroke-width="0.5"/>
<ellipse cx="134.50" cy="242.00" rx="1.90" ry="1.60" fill="#3d3f9e" stroke="#1c1d55" stroke-width="0.5"/>
<ellipse cx="132.30" cy="244.30" rx="1.90" ry="1.60" fill="#3d3f9e" stroke="#1c1d55" stroke-width="0.5"/>
<ellipse cx="137.30" cy="244.30" rx="1.90" ry="1.60" fill="#3d3f9e" stroke="#1c1d55" stroke-width="0.5"/>
<ellipse cx="200.50" cy="168.30" rx="1.95" ry="1.60" fill="#d8412f" stroke="#4a140e" stroke-width="0.6"/>
<ellipse cx="178.80" cy="191.00" rx="1.95" ry="1.60" fill="#d8412f" stroke="#4a140e" stroke-width="0.6"/>
<ellipse cx="191.20" cy="192.60" rx="1.95" ry="1.60" fill="#d8412f" stroke="#4a140e" stroke-width="0.6"/>
<ellipse cx="205.50" cy="196.50" rx="1.95" ry="1.60" fill="#d8412f" stroke="#4a140e" stroke-width="0.6"/>
<ellipse cx="192.60" cy="203.50" rx="1.95" ry="1.60" fill="#d8412f" stroke="#4a140e" stroke-width="0.6"/>
<ellipse cx="209.60" cy="206.30" rx="1.95" ry="1.60" fill="#d8412f" stroke="#4a140e" stroke-width="0.6"/>
<ellipse cx="197.90" cy="209.50" rx="1.95" ry="1.60" fill="#d8412f" stroke="#4a140e" stroke-width="0.6"/>
<ellipse cx="201.20" cy="209.50" rx="1.95" ry="1.60" fill="#d8412f" stroke="#4a140e" stroke-width="0.6"/>
<ellipse cx="204.60" cy="209.50" rx="1.95" ry="1.60" fill="#d8412f" stroke="#4a140e" stroke-width="0.6"/>
<ellipse cx="207.80" cy="209.40" rx="1.95" ry="1.60" fill="#d8412f" stroke="#4a140e" stroke-width="0.6"/>
<ellipse cx="197.20" cy="211.60" rx="1.95" ry="1.60" fill="#d8412f" stroke="#4a140e" stroke-width="0.6"/>
<ellipse cx="202.20" cy="214.10" rx="1.95" ry="1.60" fill="#d8412f" stroke="#4a140e" stroke-width="0.6"/>
<ellipse cx="205.00" cy="214.60" rx="1.95" ry="1.60" fill="#d8412f" stroke="#4a140e" stroke-width="0.6"/>
<ellipse cx="182.20" cy="216.20" rx="1.95" ry="1.60" fill="#d8412f" stroke="#4a140e" stroke-width="0.6"/>
<ellipse cx="186.80" cy="215.80" rx="1.95" ry="1.60" fill="#d8412f" stroke="#4a140e" stroke-width="0.6"/>
<ellipse cx="208.20" cy="215.90" rx="1.95" ry="1.60" fill="#d8412f" stroke="#4a140e" stroke-width="0.6"/>
<ellipse cx="173.50" cy="222.80" rx="1.95" ry="1.60" fill="#d8412f" stroke="#4a140e" stroke-width="0.6"/>
<ellipse cx="185.80" cy="221.30" rx="1.95" ry="1.60" fill="#d8412f" stroke="#4a140e" stroke-width="0.6"/>
<ellipse cx="185.30" cy="224.70" rx="1.95" ry="1.60" fill="#d8412f" stroke="#4a140e" stroke-width="0.6"/>
<ellipse cx="191.40" cy="225.20" rx="1.95" ry="1.60" fill="#d8412f" stroke="#4a140e" stroke-width="0.6"/>
<ellipse cx="196.60" cy="224.40" rx="1.95" ry="1.60" fill="#d8412f" stroke="#4a140e" stroke-width="0.6"/>
<ellipse cx="199.90" cy="222.50" rx="1.95" ry="1.60" fill="#d8412f" stroke="#4a140e" stroke-width="0.6"/>
<ellipse cx="203.20" cy="221.60" rx="1.95" ry="1.60" fill="#d8412f" stroke="#4a140e" stroke-width="0.6"/>
<ellipse cx="205.50" cy="224.40" rx="1.95" ry="1.60" fill="#d8412f" stroke="#4a140e" stroke-width="0.6"/>
<ellipse cx="208.80" cy="224.40" rx="1.95" ry="1.60" fill="#d8412f" stroke="#4a140e" stroke-width="0.6"/>
<ellipse cx="209.30" cy="221.60" rx="1.95" ry="1.60" fill="#d8412f" stroke="#4a140e" stroke-width="0.6"/>
<ellipse cx="198.80" cy="225.50" rx="1.95" ry="1.60" fill="#d8412f" stroke="#4a140e" stroke-width="0.6"/>
<ellipse cx="193.30" cy="227.70" rx="1.95" ry="1.60" fill="#d8412f" stroke="#4a140e" stroke-width="0.6"/>
<ellipse cx="180.00" cy="230.00" rx="1.95" ry="1.60" fill="#d8412f" stroke="#4a140e" stroke-width="0.6"/>
<ellipse cx="187.70" cy="229.60" rx="1.95" ry="1.60" fill="#d8412f" stroke="#4a140e" stroke-width="0.6"/>
<ellipse cx="193.30" cy="231.60" rx="1.95" ry="1.60" fill="#d8412f" stroke="#4a140e" stroke-width="0.6"/>
<ellipse cx="198.80" cy="229.60" rx="1.95" ry="1.60" fill="#d8412f" stroke="#4a140e" stroke-width="0.6"/>
<ellipse cx="201.60" cy="231.10" rx="1.95" ry="1.60" fill="#d8412f" stroke="#4a140e" stroke-width="0.6"/>
<ellipse cx="204.40" cy="231.10" rx="1.95" ry="1.60" fill="#d8412f" stroke="#4a140e" stroke-width="0.6"/>
<ellipse cx="172.20" cy="232.70" rx="1.95" ry="1.60" fill="#d8412f" stroke="#4a140e" stroke-width="0.6"/>
<ellipse cx="177.70" cy="234.00" rx="1.95" ry="1.60" fill="#d8412f" stroke="#4a140e" stroke-width="0.6"/>
<ellipse cx="180.50" cy="232.20" rx="1.95" ry="1.60" fill="#d8412f" stroke="#4a140e" stroke-width="0.6"/>
<ellipse cx="188.30" cy="237.20" rx="1.95" ry="1.60" fill="#d8412f" stroke="#4a140e" stroke-width="0.6"/>
<ellipse cx="172.00" cy="233.20" rx="1.95" ry="1.60" fill="#d8412f" stroke="#4a140e" stroke-width="0.6"/>
<ellipse cx="177.40" cy="233.50" rx="1.95" ry="1.60" fill="#d8412f" stroke="#4a140e" stroke-width="0.6"/>
<ellipse cx="179.80" cy="230.40" rx="1.95" ry="1.60" fill="#d8412f" stroke="#4a140e" stroke-width="0.6"/>
<ellipse cx="187.60" cy="229.60" rx="1.95" ry="1.60" fill="#d8412f" stroke="#4a140e" stroke-width="0.6"/>
<ellipse cx="193.70" cy="231.00" rx="1.95" ry="1.60" fill="#d8412f" stroke="#4a140e" stroke-width="0.6"/>
<ellipse cx="199.70" cy="229.80" rx="1.95" ry="1.60" fill="#d8412f" stroke="#4a140e" stroke-width="0.6"/>
<ellipse cx="204.00" cy="230.40" rx="1.95" ry="1.60" fill="#d8412f" stroke="#4a140e" stroke-width="0.6"/>
<ellipse cx="187.60" cy="236.90" rx="1.95" ry="1.60" fill="#d8412f" stroke="#4a140e" stroke-width="0.6"/>
<ellipse cx="183.50" cy="234.50" rx="1.95" ry="1.60" fill="#d8412f" stroke="#4a140e" stroke-width="0.6"/>
<ellipse cx="196.50" cy="234.80" rx="1.95" ry="1.60" fill="#d8412f" stroke="#4a140e" stroke-width="0.6"/>
<ellipse cx="169.00" cy="238.50" rx="1.95" ry="1.60" fill="#d8412f" stroke="#4a140e" stroke-width="0.6"/>
<ellipse cx="202.50" cy="235.50" rx="1.95" ry="1.60" fill="#d8412f" stroke="#4a140e" stroke-width="0.6"/>
<ellipse cx="173.90" cy="242.32" rx="1.95" ry="1.60" fill="#d8412f" stroke="#4a140e" stroke-width="0.6"/>
<ellipse cx="179.11" cy="242.96" rx="1.95" ry="1.60" fill="#d8412f" stroke="#4a140e" stroke-width="0.6"/>
<ellipse cx="189.22" cy="237.20" rx="1.95" ry="1.60" fill="#d8412f" stroke="#4a140e" stroke-width="0.6"/>
<ellipse cx="165.02" cy="246.51" rx="1.95" ry="1.60" fill="#d8412f" stroke="#4a140e" stroke-width="0.6"/>
<ellipse cx="174.74" cy="239.01" rx="1.95" ry="1.60" fill="#d8412f" stroke="#4a140e" stroke-width="0.6"/>
<ellipse cx="203.83" cy="241.53" rx="1.95" ry="1.60" fill="#d8412f" stroke="#4a140e" stroke-width="0.6"/>
<ellipse cx="197.54" cy="241.60" rx="1.95" ry="1.60" fill="#d8412f" stroke="#4a140e" stroke-width="0.6"/>
<ellipse cx="189.74" cy="238.11" rx="1.95" ry="1.60" fill="#d8412f" stroke="#4a140e" stroke-width="0.6"/>
<ellipse cx="189.58" cy="245.79" rx="1.95" ry="1.60" fill="#d8412f" stroke="#4a140e" stroke-width="0.6"/>
<ellipse cx="185.17" cy="244.43" rx="1.95" ry="1.60" fill="#d8412f" stroke="#4a140e" stroke-width="0.6"/>
<ellipse cx="191.02" cy="237.19" rx="1.95" ry="1.60" fill="#d8412f" stroke="#4a140e" stroke-width="0.6"/>
<ellipse cx="194.45" cy="242.82" rx="1.95" ry="1.60" fill="#d8412f" stroke="#4a140e" stroke-width="0.6"/>
<ellipse cx="176.40" cy="236.83" rx="1.95" ry="1.60" fill="#d8412f" stroke="#4a140e" stroke-width="0.6"/>
<ellipse cx="198.69" cy="241.56" rx="1.95" ry="1.60" fill="#d8412f" stroke="#4a140e" stroke-width="0.6"/>
<ellipse cx="192.89" cy="245.90" rx="1.95" ry="1.60" fill="#d8412f" stroke="#4a140e" stroke-width="0.6"/>
<ellipse cx="192.71" cy="246.36" rx="1.95" ry="1.60" fill="#d8412f" stroke="#4a140e" stroke-width="0.6"/>
<ellipse cx="199.22" cy="237.54" rx="1.95" ry="1.60" fill="#d8412f" stroke="#4a140e" stroke-width="0.6"/>
<ellipse cx="169.87" cy="238.95" rx="1.95" ry="1.60" fill="#d8412f" stroke="#4a140e" stroke-width="0.6"/>
<ellipse cx="202.64" cy="241.17" rx="1.95" ry="1.60" fill="#d8412f" stroke="#4a140e" stroke-width="0.6"/>
<ellipse cx="189.25" cy="239.72" rx="1.95" ry="1.60" fill="#d8412f" stroke="#4a140e" stroke-width="0.6"/>
<ellipse cx="184.54" cy="240.63" rx="1.95" ry="1.60" fill="#d8412f" stroke="#4a140e" stroke-width="0.6"/>
<ellipse cx="178.36" cy="242.76" rx="1.95" ry="1.60" fill="#d8412f" stroke="#4a140e" stroke-width="0.6"/>
<ellipse cx="187.58" cy="246.17" rx="1.95" ry="1.60" fill="#d8412f" stroke="#4a140e" stroke-width="0.6"/>
<ellipse cx="191.44" cy="246.44" rx="1.95" ry="1.60" fill="#d8412f" stroke="#4a140e" stroke-width="0.6"/>
<ellipse cx="198.33" cy="247.10" rx="1.95" ry="1.60" fill="#d8412f" stroke="#4a140e" stroke-width="0.6"/>
<ellipse cx="191.02" cy="238.25" rx="1.95" ry="1.60" fill="#d8412f" stroke="#4a140e" stroke-width="0.6"/>
<ellipse cx="198.50" cy="246.82" rx="1.95" ry="1.60" fill="#d8412f" stroke="#4a140e" stroke-width="0.6"/>
<ellipse cx="200.24" cy="242.59" rx="1.95" ry="1.60" fill="#d8412f" stroke="#4a140e" stroke-width="0.6"/>
<ellipse cx="192.70" cy="238.76" rx="1.95" ry="1.60" fill="#d8412f" stroke="#4a140e" stroke-width="0.6"/>
<ellipse cx="197.35" cy="242.64" rx="1.95" ry="1.60" fill="#d8412f" stroke="#4a140e" stroke-width="0.6"/>
<ellipse cx="175.76" cy="237.18" rx="1.95" ry="1.60" fill="#d8412f" stroke="#4a140e" stroke-width="0.6"/>
<ellipse cx="198.23" cy="247.09" rx="1.95" ry="1.60" fill="#d8412f" stroke="#4a140e" stroke-width="0.6"/>
<ellipse cx="168.00" cy="245.59" rx="1.95" ry="1.60" fill="#d8412f" stroke="#4a140e" stroke-width="0.6"/>
<ellipse cx="180.71" cy="238.11" rx="1.95" ry="1.60" fill="#d8412f" stroke="#4a140e" stroke-width="0.6"/>
<ellipse cx="176.11" cy="244.73" rx="1.95" ry="1.60" fill="#d8412f" stroke="#4a140e" stroke-width="0.6"/>
<ellipse cx="198.97" cy="236.97" rx="1.95" ry="1.60" fill="#d8412f" stroke="#4a140e" stroke-width="0.6"/>
<ellipse cx="188.77" cy="236.98" rx="1.95" ry="1.60" fill="#d8412f" stroke="#4a140e" stroke-width="0.6"/>
<ellipse cx="192.88" cy="240.04" rx="1.95" ry="1.60" fill="#d8412f" stroke="#4a140e" stroke-width="0.6"/>
<ellipse cx="199.30" cy="246.99" rx="1.95" ry="1.60" fill="#d8412f" stroke="#4a140e" stroke-width="0.6"/>
<ellipse cx="176.73" cy="237.32" rx="1.95" ry="1.60" fill="#d8412f" stroke="#4a140e" stroke-width="0.6"/>
<ellipse cx="188.19" cy="236.84" rx="1.95" ry="1.60" fill="#d8412f" stroke="#4a140e" stroke-width="0.6"/>
<ellipse cx="172.30" cy="240.86" rx="1.95" ry="1.60" fill="#d8412f" stroke="#4a140e" stroke-width="0.6"/>
<ellipse cx="188.61" cy="238.17" rx="1.95" ry="1.60" fill="#d8412f" stroke="#4a140e" stroke-width="0.6"/>
<ellipse cx="166.18" cy="246.44" rx="1.95" ry="1.60" fill="#d8412f" stroke="#4a140e" stroke-width="0.6"/>
<ellipse cx="176.90" cy="246.76" rx="1.95" ry="1.60" fill="#d8412f" stroke="#4a140e" stroke-width="0.6"/>
<ellipse cx="199.92" cy="240.54" rx="1.95" ry="1.60" fill="#d8412f" stroke="#4a140e" stroke-width="0.6"/>
<ellipse cx="182.69" cy="242.06" rx="1.95" ry="1.60" fill="#d8412f" stroke="#4a140e" stroke-width="0.6"/>
<ellipse cx="189.93" cy="242.87" rx="1.95" ry="1.60" fill="#d8412f" stroke="#4a140e" stroke-width="0.6"/>
<ellipse cx="186.59" cy="243.14" rx="1.95" ry="1.60" fill="#d8412f" stroke="#4a140e" stroke-width="0.6"/>
<ellipse cx="201.65" cy="241.93" rx="1.95" ry="1.60" fill="#d8412f" stroke="#4a140e" stroke-width="0.6"/>
<ellipse cx="181.53" cy="244.21" rx="1.95" ry="1.60" fill="#d8412f" stroke="#4a140e" stroke-width="0.6"/>
<ellipse cx="173.89" cy="239.72" rx="1.95" ry="1.60" fill="#d8412f" stroke="#4a140e" stroke-width="0.6"/>
<ellipse cx="203.12" cy="242.08" rx="1.95" ry="1.60" fill="#d8412f" stroke="#4a140e" stroke-width="0.6"/>
<ellipse cx="186.16" cy="236.62" rx="1.95" ry="1.60" fill="#d8412f" stroke="#4a140e" stroke-width="0.6"/>
<ellipse cx="180.90" cy="242.71" rx="1.95" ry="1.60" fill="#d8412f" stroke="#4a140e" stroke-width="0.6"/>
<ellipse cx="165.29" cy="245.44" rx="1.95" ry="1.60" fill="#d8412f" stroke="#4a140e" stroke-width="0.6"/>
<ellipse cx="189.47" cy="237.14" rx="1.95" ry="1.60" fill="#d8412f" stroke="#4a140e" stroke-width="0.6"/>
<ellipse cx="189.28" cy="241.49" rx="1.95" ry="1.60" fill="#d8412f" stroke="#4a140e" stroke-width="0.6"/>
<ellipse cx="191.33" cy="240.27" rx="1.95" ry="1.60" fill="#d8412f" stroke="#4a140e" stroke-width="0.6"/>
<ellipse cx="192.42" cy="244.40" rx="1.95" ry="1.60" fill="#d8412f" stroke="#4a140e" stroke-width="0.6"/>
<ellipse cx="165.38" cy="242.79" rx="1.95" ry="1.60" fill="#d8412f" stroke="#4a140e" stroke-width="0.6"/>
<ellipse cx="191.20" cy="246.81" rx="1.95" ry="1.60" fill="#d8412f" stroke="#4a140e" stroke-width="0.6"/>
<ellipse cx="174.42" cy="241.38" rx="1.95" ry="1.60" fill="#d8412f" stroke="#4a140e" stroke-width="0.6"/>
<ellipse cx="187.91" cy="239.92" rx="1.95" ry="1.60" fill="#d8412f" stroke="#4a140e" stroke-width="0.6"/>
<ellipse cx="178.88" cy="239.85" rx="1.95" ry="1.60" fill="#d8412f" stroke="#4a140e" stroke-width="0.6"/>
<ellipse cx="179.08" cy="242.87" rx="1.95" ry="1.60" fill="#d8412f" stroke="#4a140e" stroke-width="0.6"/>
<ellipse cx="176.37" cy="240.54" rx="1.95" ry="1.60" fill="#d8412f" stroke="#4a140e" stroke-width="0.6"/>
<ellipse cx="195.00" cy="236.79" rx="1.95" ry="1.60" fill="#d8412f" stroke="#4a140e" stroke-width="0.6"/>
<ellipse cx="186.99" cy="244.37" rx="1.95" ry="1.60" fill="#d8412f" stroke="#4a140e" stroke-width="0.6"/>
<ellipse cx="176.75" cy="238.88" rx="1.95" ry="1.60" fill="#d8412f" stroke="#4a140e" stroke-width="0.6"/>
<ellipse cx="196.25" cy="239.05" rx="1.95" ry="1.60" fill="#d8412f" stroke="#4a140e" stroke-width="0.6"/>
<ellipse cx="171.90" cy="241.16" rx="1.95" ry="1.60" fill="#d8412f" stroke="#4a140e" stroke-width="0.6"/>
<text x="134.90" y="188.60" font-size="7.8" font-weight="bold" fill="#000" text-anchor="start" stroke="#000" stroke-width="0.15" textLength="8.10" lengthAdjust="spacingAndGlyphs">10</text>
<text x="160.60" y="188.60" font-size="7.8" font-weight="bold" fill="#000" text-anchor="start" stroke="#000" stroke-width="0.15" textLength="11.30" lengthAdjust="spacingAndGlyphs">137</text>
<text x="128.40" y="140.30" font-size="9" font-weight="bold" fill="#000" text-anchor="start" stroke="#000" stroke-width="0.18" textLength="46.80" lengthAdjust="spacingAndGlyphs">Neutrophils</text>
<text x="120.00" y="150.60" font-size="7.8" font-weight="bold" fill="#000" text-anchor="start" stroke="#000" stroke-width="0.15" textLength="61.80" lengthAdjust="spacingAndGlyphs">Preterm vs. Term</text>
<text x="139.3" y="285.6" font-size="7.5" font-weight="bold" textLength="24" lengthAdjust="spacingAndGlyphs">log<tspan font-size="5" dy="1.8">2</tspan><tspan dy="-1.8">FC</tspan></text>
<text transform="translate(72.4,247.7) rotate(-90)" font-size="7" font-weight="bold" fill="#000" textLength="85.5" lengthAdjust="spacingAndGlyphs">-log<tspan font-size="4.6" dy="1.5">10</tspan><tspan dy="-1.5">(adjusted p value)</tspan></text>
<text x="54.70" y="282.70" font-size="7.8" font-weight="bold" fill="#000" text-anchor="start">b</text>
<line x1="290.60" y1="161.50" x2="290.60" y2="267.50" stroke="#8a8a8a" stroke-width="1.4"/>
<line x1="288.60" y1="267.00" x2="290.60" y2="267.00" stroke="#777" stroke-width="0.8"/>
<text x="286.40" y="269.20" font-size="6.2" font-weight="normal" fill="#333" text-anchor="end" stroke="#333" stroke-width="0.1">0</text>
<line x1="288.60" y1="232.20" x2="290.60" y2="232.20" stroke="#777" stroke-width="0.8"/>
<text x="286.40" y="234.40" font-size="6.2" font-weight="normal" fill="#333" text-anchor="end" stroke="#333" stroke-width="0.1">2</text>
<line x1="288.60" y1="197.40" x2="290.60" y2="197.40" stroke="#777" stroke-width="0.8"/>
<text x="286.40" y="199.60" font-size="6.2" font-weight="normal" fill="#333" text-anchor="end" stroke="#333" stroke-width="0.1">4</text>
<line x1="288.60" y1="162.60" x2="290.60" y2="162.60" stroke="#777" stroke-width="0.8"/>
<text x="286.40" y="164.80" font-size="6.2" font-weight="normal" fill="#333" text-anchor="end" stroke="#333" stroke-width="0.1">6</text>
<line x1="290.60" y1="267.20" x2="409.60" y2="267.20" stroke="#a8a8a8" stroke-width="1.4"/>
<line x1="311.10" y1="267.20" x2="311.10" y2="269.20" stroke="#777" stroke-width="0.8"/>
<text x="310.30" y="275.80" font-size="6.2" font-weight="normal" fill="#333" text-anchor="middle" stroke="#333" stroke-width="0.1">-5</text>
<line x1="343.60" y1="267.20" x2="343.60" y2="269.20" stroke="#777" stroke-width="0.8"/>
<text x="343.60" y="275.80" font-size="6.2" font-weight="normal" fill="#333" text-anchor="middle" stroke="#333" stroke-width="0.1">0</text>
<line x1="376.10" y1="267.20" x2="376.10" y2="269.20" stroke="#777" stroke-width="0.8"/>
<text x="376.10" y="275.80" font-size="6.2" font-weight="normal" fill="#333" text-anchor="middle" stroke="#333" stroke-width="0.1">5</text>
<line x1="408.60" y1="267.20" x2="408.60" y2="269.20" stroke="#777" stroke-width="0.8"/>
<text x="408.60" y="275.80" font-size="6.2" font-weight="normal" fill="#333" text-anchor="middle" stroke="#333" stroke-width="0.1">10</text>
<g stroke="#d9534f" stroke-width="0.8" stroke-dasharray="1.2,1.2" fill="none"><line x1="342.1" y1="161.4" x2="342.1" y2="267"/><line x1="345.7" y1="161.4" x2="345.7" y2="267"/><line x1="290.6" y1="249.6" x2="408.4" y2="249.6"/></g>
<path d="M314.2,267 L315,262 L316.3,257.5 L317.8,253.8 L319.8,251.6 L322.3,249.6 L335.2,249.6 L336.6,252.5 L338.4,257.5 L340.2,262.3 L341.6,265 Q344.4,267.6 347.2,265 L348.4,261.5 L349.8,256.5 L351,252.5 L352.2,249.5 L398.8,249.5 L397.5,252 L394,256 L390,260.5 L386.5,264 L383.8,267 Z" fill="#000"/>
<ellipse cx="298.50" cy="249.40" rx="2.20" ry="1.95" fill="#2a2a2a" stroke="#000" stroke-width="0.6"/>
<ellipse cx="291.20" cy="257.80" rx="2.20" ry="1.95" fill="#2a2a2a" stroke="#000" stroke-width="0.6"/>
<ellipse cx="300.90" cy="262.30" rx="2.20" ry="1.95" fill="#2a2a2a" stroke="#000" stroke-width="0.6"/>
<ellipse cx="304.30" cy="260.20" rx="2.20" ry="1.95" fill="#2a2a2a" stroke="#000" stroke-width="0.6"/>
<ellipse cx="302.70" cy="265.30" rx="2.20" ry="1.95" fill="#2a2a2a" stroke="#000" stroke-width="0.6"/>
<ellipse cx="311.50" cy="263.50" rx="2.20" ry="1.95" fill="#2a2a2a" stroke="#000" stroke-width="0.6"/>
<ellipse cx="311.50" cy="265.90" rx="2.20" ry="1.95" fill="#2a2a2a" stroke="#000" stroke-width="0.6"/>
<ellipse cx="313.00" cy="250.80" rx="2.20" ry="1.95" fill="#2a2a2a" stroke="#000" stroke-width="0.6"/>
<ellipse cx="312.40" cy="253.80" rx="2.20" ry="1.95" fill="#2a2a2a" stroke="#000" stroke-width="0.6"/>
<ellipse cx="314.80" cy="256.90" rx="2.20" ry="1.95" fill="#2a2a2a" stroke="#000" stroke-width="0.6"/>
<ellipse cx="306.00" cy="265.50" rx="2.20" ry="1.95" fill="#2a2a2a" stroke="#000" stroke-width="0.6"/>
<ellipse cx="313.50" cy="260.50" rx="2.20" ry="1.95" fill="#2a2a2a" stroke="#000" stroke-width="0.6"/>
<ellipse cx="401.30" cy="250.00" rx="2.20" ry="1.95" fill="#2a2a2a" stroke="#000" stroke-width="0.6"/>
<ellipse cx="398.10" cy="253.10" rx="2.20" ry="1.95" fill="#2a2a2a" stroke="#000" stroke-width="0.6"/>
<ellipse cx="394.40" cy="255.60" rx="2.20" ry="1.95" fill="#2a2a2a" stroke="#000" stroke-width="0.6"/>
<ellipse cx="391.90" cy="257.80" rx="2.20" ry="1.95" fill="#2a2a2a" stroke="#000" stroke-width="0.6"/>
<ellipse cx="388.50" cy="261.00" rx="2.20" ry="1.95" fill="#2a2a2a" stroke="#000" stroke-width="0.6"/>
<ellipse cx="386.00" cy="264.50" rx="2.20" ry="1.95" fill="#2a2a2a" stroke="#000" stroke-width="0.6"/>
<ellipse cx="320.00" cy="250.30" rx="2.20" ry="1.95" fill="#000" stroke="#000" stroke-width="0.4"/>
<ellipse cx="325.00" cy="250.00" rx="2.20" ry="1.95" fill="#000" stroke="#000" stroke-width="0.4"/>
<ellipse cx="330.00" cy="250.20" rx="2.20" ry="1.95" fill="#000" stroke="#000" stroke-width="0.4"/>
<ellipse cx="334.50" cy="250.40" rx="2.20" ry="1.95" fill="#000" stroke="#000" stroke-width="0.4"/>
<ellipse cx="354.00" cy="250.20" rx="2.20" ry="1.95" fill="#000" stroke="#000" stroke-width="0.4"/>
<ellipse cx="360.00" cy="250.00" rx="2.20" ry="1.95" fill="#000" stroke="#000" stroke-width="0.4"/>
<ellipse cx="366.00" cy="250.20" rx="2.20" ry="1.95" fill="#000" stroke="#000" stroke-width="0.4"/>
<ellipse cx="372.00" cy="250.00" rx="2.20" ry="1.95" fill="#000" stroke="#000" stroke-width="0.4"/>
<ellipse cx="378.00" cy="250.20" rx="2.20" ry="1.95" fill="#000" stroke="#000" stroke-width="0.4"/>
<ellipse cx="384.00" cy="250.00" rx="2.20" ry="1.95" fill="#000" stroke="#000" stroke-width="0.4"/>
<ellipse cx="390.00" cy="250.20" rx="2.20" ry="1.95" fill="#000" stroke="#000" stroke-width="0.4"/>
<ellipse cx="396.00" cy="250.10" rx="2.20" ry="1.95" fill="#000" stroke="#000" stroke-width="0.4"/>
<ellipse cx="321.70" cy="207.90" rx="2.30" ry="2.00" fill="#3d3f9e" stroke="#1c1d55" stroke-width="0.5"/>
<ellipse cx="323.90" cy="208.70" rx="2.30" ry="2.00" fill="#3d3f9e" stroke="#1c1d55" stroke-width="0.5"/>
<ellipse cx="325.10" cy="211.90" rx="2.30" ry="2.00" fill="#3d3f9e" stroke="#1c1d55" stroke-width="0.5"/>
<ellipse cx="318.80" cy="221.50" rx="2.30" ry="2.00" fill="#3d3f9e" stroke="#1c1d55" stroke-width="0.5"/>
<ellipse cx="329.00" cy="223.60" rx="2.30" ry="2.00" fill="#3d3f9e" stroke="#1c1d55" stroke-width="0.5"/>
<ellipse cx="326.00" cy="226.90" rx="2.30" ry="2.00" fill="#3d3f9e" stroke="#1c1d55" stroke-width="0.5"/>
<ellipse cx="311.80" cy="228.20" rx="2.30" ry="2.00" fill="#3d3f9e" stroke="#1c1d55" stroke-width="0.5"/>
<ellipse cx="315.20" cy="229.60" rx="2.30" ry="2.00" fill="#3d3f9e" stroke="#1c1d55" stroke-width="0.5"/>
<ellipse cx="323.00" cy="232.90" rx="2.30" ry="2.00" fill="#3d3f9e" stroke="#1c1d55" stroke-width="0.5"/>
<ellipse cx="306.30" cy="236.70" rx="2.30" ry="2.00" fill="#3d3f9e" stroke="#1c1d55" stroke-width="0.5"/>
<ellipse cx="318.80" cy="235.70" rx="2.30" ry="2.00" fill="#3d3f9e" stroke="#1c1d55" stroke-width="0.5"/>
<ellipse cx="326.30" cy="236.00" rx="2.30" ry="2.00" fill="#3d3f9e" stroke="#1c1d55" stroke-width="0.5"/>
<ellipse cx="328.50" cy="236.90" rx="2.30" ry="2.00" fill="#3d3f9e" stroke="#1c1d55" stroke-width="0.5"/>
<ellipse cx="315.60" cy="239.90" rx="2.30" ry="2.00" fill="#3d3f9e" stroke="#1c1d55" stroke-width="0.5"/>
<ellipse cx="319.00" cy="240.50" rx="2.30" ry="2.00" fill="#3d3f9e" stroke="#1c1d55" stroke-width="0.5"/>
<ellipse cx="322.40" cy="239.30" rx="2.30" ry="2.00" fill="#3d3f9e" stroke="#1c1d55" stroke-width="0.5"/>
<ellipse cx="326.30" cy="241.10" rx="2.30" ry="2.00" fill="#3d3f9e" stroke="#1c1d55" stroke-width="0.5"/>
<ellipse cx="329.30" cy="241.70" rx="2.30" ry="2.00" fill="#3d3f9e" stroke="#1c1d55" stroke-width="0.5"/>
<ellipse cx="314.20" cy="244.50" rx="2.30" ry="2.00" fill="#3d3f9e" stroke="#1c1d55" stroke-width="0.5"/>
<ellipse cx="316.00" cy="245.70" rx="2.30" ry="2.00" fill="#3d3f9e" stroke="#1c1d55" stroke-width="0.5"/>
<ellipse cx="320.20" cy="245.00" rx="2.30" ry="2.00" fill="#3d3f9e" stroke="#1c1d55" stroke-width="0.5"/>
<ellipse cx="319.60" cy="247.80" rx="2.30" ry="2.00" fill="#3d3f9e" stroke="#1c1d55" stroke-width="0.5"/>
<ellipse cx="324.50" cy="244.80" rx="2.30" ry="2.00" fill="#3d3f9e" stroke="#1c1d55" stroke-width="0.5"/>
<ellipse cx="327.50" cy="246.00" rx="2.30" ry="2.00" fill="#3d3f9e" stroke="#1c1d55" stroke-width="0.5"/>
<ellipse cx="330.50" cy="246.00" rx="2.30" ry="2.00" fill="#3d3f9e" stroke="#1c1d55" stroke-width="0.5"/>
<ellipse cx="332.60" cy="243.50" rx="2.30" ry="2.00" fill="#3d3f9e" stroke="#1c1d55" stroke-width="0.5"/>
<ellipse cx="323.30" cy="243.00" rx="2.30" ry="2.00" fill="#3d3f9e" stroke="#1c1d55" stroke-width="0.5"/>
<ellipse cx="326.30" cy="247.00" rx="2.30" ry="2.00" fill="#3d3f9e" stroke="#1c1d55" stroke-width="0.5"/>
<ellipse cx="312.00" cy="247.50" rx="2.30" ry="2.00" fill="#3d3f9e" stroke="#1c1d55" stroke-width="0.5"/>
<ellipse cx="334.00" cy="247.20" rx="2.30" ry="2.00" fill="#3d3f9e" stroke="#1c1d55" stroke-width="0.5"/>
<ellipse cx="317.00" cy="242.00" rx="2.30" ry="2.00" fill="#3d3f9e" stroke="#1c1d55" stroke-width="0.5"/>
<ellipse cx="394.30" cy="168.90" rx="2.25" ry="1.95" fill="#d8412f" stroke="#4a140e" stroke-width="0.65"/>
<ellipse cx="399.50" cy="168.90" rx="2.25" ry="1.95" fill="#d8412f" stroke="#4a140e" stroke-width="0.65"/>
<ellipse cx="409.60" cy="168.90" rx="2.25" ry="1.95" fill="#d8412f" stroke="#4a140e" stroke-width="0.65"/>
<ellipse cx="409.60" cy="174.40" rx="2.25" ry="1.95" fill="#d8412f" stroke="#4a140e" stroke-width="0.65"/>
<ellipse cx="394.30" cy="177.00" rx="2.25" ry="1.95" fill="#d8412f" stroke="#4a140e" stroke-width="0.65"/>
<ellipse cx="393.00" cy="179.90" rx="2.25" ry="1.95" fill="#d8412f" stroke="#4a140e" stroke-width="0.65"/>
<ellipse cx="408.30" cy="179.90" rx="2.25" ry="1.95" fill="#d8412f" stroke="#4a140e" stroke-width="0.65"/>
<ellipse cx="394.60" cy="187.30" rx="2.25" ry="1.95" fill="#d8412f" stroke="#4a140e" stroke-width="0.65"/>
<ellipse cx="398.80" cy="187.30" rx="2.25" ry="1.95" fill="#d8412f" stroke="#4a140e" stroke-width="0.65"/>
<ellipse cx="392.60" cy="190.40" rx="2.25" ry="1.95" fill="#d8412f" stroke="#4a140e" stroke-width="0.65"/>
<ellipse cx="409.60" cy="187.50" rx="2.25" ry="1.95" fill="#d8412f" stroke="#4a140e" stroke-width="0.65"/>
<ellipse cx="406.40" cy="190.80" rx="2.25" ry="1.95" fill="#d8412f" stroke="#4a140e" stroke-width="0.65"/>
<ellipse cx="409.00" cy="190.40" rx="2.25" ry="1.95" fill="#d8412f" stroke="#4a140e" stroke-width="0.65"/>
<ellipse cx="375.60" cy="190.80" rx="2.25" ry="1.95" fill="#d8412f" stroke="#4a140e" stroke-width="0.65"/>
<ellipse cx="378.20" cy="191.20" rx="2.25" ry="1.95" fill="#d8412f" stroke="#4a140e" stroke-width="0.65"/>
<ellipse cx="405.70" cy="196.70" rx="2.25" ry="1.95" fill="#d8412f" stroke="#4a140e" stroke-width="0.65"/>
<ellipse cx="409.60" cy="197.40" rx="2.25" ry="1.95" fill="#d8412f" stroke="#4a140e" stroke-width="0.65"/>
<ellipse cx="385.40" cy="197.40" rx="2.25" ry="1.95" fill="#d8412f" stroke="#4a140e" stroke-width="0.65"/>
<ellipse cx="388.70" cy="199.10" rx="2.25" ry="1.95" fill="#d8412f" stroke="#4a140e" stroke-width="0.65"/>
<ellipse cx="371.00" cy="200.60" rx="2.25" ry="1.95" fill="#d8412f" stroke="#4a140e" stroke-width="0.65"/>
<ellipse cx="373.60" cy="199.30" rx="2.25" ry="1.95" fill="#d8412f" stroke="#4a140e" stroke-width="0.65"/>
<ellipse cx="379.90" cy="201.70" rx="2.25" ry="1.95" fill="#d8412f" stroke="#4a140e" stroke-width="0.65"/>
<ellipse cx="409.60" cy="201.90" rx="2.25" ry="1.95" fill="#d8412f" stroke="#4a140e" stroke-width="0.65"/>
<ellipse cx="406.40" cy="199.30" rx="2.25" ry="1.95" fill="#d8412f" stroke="#4a140e" stroke-width="0.65"/>
<ellipse cx="400.50" cy="203.90" rx="2.25" ry="1.95" fill="#d8412f" stroke="#4a140e" stroke-width="0.65"/>
<ellipse cx="403.10" cy="203.90" rx="2.25" ry="1.95" fill="#d8412f" stroke="#4a140e" stroke-width="0.65"/>
<ellipse cx="406.60" cy="203.90" rx="2.25" ry="1.95" fill="#d8412f" stroke="#4a140e" stroke-width="0.65"/>
<ellipse cx="388.00" cy="206.90" rx="2.25" ry="1.95" fill="#d8412f" stroke="#4a140e" stroke-width="0.65"/>
<ellipse cx="401.10" cy="208.50" rx="2.25" ry="1.95" fill="#d8412f" stroke="#4a140e" stroke-width="0.65"/>
<ellipse cx="409.60" cy="208.20" rx="2.25" ry="1.95" fill="#d8412f" stroke="#4a140e" stroke-width="0.65"/>
<ellipse cx="375.20" cy="209.80" rx="2.25" ry="1.95" fill="#d8412f" stroke="#4a140e" stroke-width="0.65"/>
<ellipse cx="388.00" cy="213.70" rx="2.25" ry="1.95" fill="#d8412f" stroke="#4a140e" stroke-width="0.65"/>
<ellipse cx="399.10" cy="213.10" rx="2.25" ry="1.95" fill="#d8412f" stroke="#4a140e" stroke-width="0.65"/>
<ellipse cx="403.10" cy="213.70" rx="2.25" ry="1.95" fill="#d8412f" stroke="#4a140e" stroke-width="0.65"/>
<ellipse cx="369.80" cy="218.20" rx="2.25" ry="1.95" fill="#d8412f" stroke="#4a140e" stroke-width="0.65"/>
<ellipse cx="375.50" cy="222.30" rx="2.25" ry="1.95" fill="#d8412f" stroke="#4a140e" stroke-width="0.65"/>
<ellipse cx="377.70" cy="220.90" rx="2.25" ry="1.95" fill="#d8412f" stroke="#4a140e" stroke-width="0.65"/>
<ellipse cx="363.00" cy="220.90" rx="2.25" ry="1.95" fill="#d8412f" stroke="#4a140e" stroke-width="0.65"/>
<ellipse cx="389.00" cy="218.20" rx="2.25" ry="1.95" fill="#d8412f" stroke="#4a140e" stroke-width="0.65"/>
<ellipse cx="383.40" cy="218.90" rx="2.25" ry="1.95" fill="#d8412f" stroke="#4a140e" stroke-width="0.65"/>
<ellipse cx="365.90" cy="226.10" rx="2.25" ry="1.95" fill="#d8412f" stroke="#4a140e" stroke-width="0.65"/>
<ellipse cx="372.00" cy="227.30" rx="2.25" ry="1.95" fill="#d8412f" stroke="#4a140e" stroke-width="0.65"/>
<ellipse cx="378.90" cy="226.10" rx="2.25" ry="1.95" fill="#d8412f" stroke="#4a140e" stroke-width="0.65"/>
<ellipse cx="384.50" cy="227.30" rx="2.25" ry="1.95" fill="#d8412f" stroke="#4a140e" stroke-width="0.65"/>
<ellipse cx="391.40" cy="226.10" rx="2.25" ry="1.95" fill="#d8412f" stroke="#4a140e" stroke-width="0.65"/>
<ellipse cx="398.20" cy="223.90" rx="2.25" ry="1.95" fill="#d8412f" stroke="#4a140e" stroke-width="0.65"/>
<ellipse cx="402.70" cy="222.70" rx="2.25" ry="1.95" fill="#d8412f" stroke="#4a140e" stroke-width="0.65"/>
<ellipse cx="364.00" cy="231.80" rx="2.25" ry="1.95" fill="#d8412f" stroke="#4a140e" stroke-width="0.65"/>
<ellipse cx="369.80" cy="233.00" rx="2.25" ry="1.95" fill="#d8412f" stroke="#4a140e" stroke-width="0.65"/>
<ellipse cx="376.60" cy="234.50" rx="2.25" ry="1.95" fill="#d8412f" stroke="#4a140e" stroke-width="0.65"/>
<ellipse cx="385.70" cy="233.60" rx="2.25" ry="1.95" fill="#d8412f" stroke="#4a140e" stroke-width="0.65"/>
<ellipse cx="393.60" cy="235.20" rx="2.25" ry="1.95" fill="#d8412f" stroke="#4a140e" stroke-width="0.65"/>
<ellipse cx="400.50" cy="231.80" rx="2.25" ry="1.95" fill="#d8412f" stroke="#4a140e" stroke-width="0.65"/>
<ellipse cx="406.10" cy="227.30" rx="2.25" ry="1.95" fill="#d8412f" stroke="#4a140e" stroke-width="0.65"/>
<ellipse cx="398.20" cy="213.60" rx="2.25" ry="1.95" fill="#d8412f" stroke="#4a140e" stroke-width="0.65"/>
<ellipse cx="400.50" cy="210.20" rx="2.25" ry="1.95" fill="#d8412f" stroke="#4a140e" stroke-width="0.65"/>
<ellipse cx="402.70" cy="215.90" rx="2.25" ry="1.95" fill="#d8412f" stroke="#4a140e" stroke-width="0.65"/>
<ellipse cx="397.00" cy="218.20" rx="2.25" ry="1.95" fill="#d8412f" stroke="#4a140e" stroke-width="0.65"/>
<ellipse cx="403.90" cy="219.30" rx="2.25" ry="1.95" fill="#d8412f" stroke="#4a140e" stroke-width="0.65"/>
<ellipse cx="405.00" cy="208.00" rx="2.25" ry="1.95" fill="#d8412f" stroke="#4a140e" stroke-width="0.65"/>
<ellipse cx="407.00" cy="213.00" rx="2.25" ry="1.95" fill="#d8412f" stroke="#4a140e" stroke-width="0.65"/>
<ellipse cx="404.00" cy="203.00" rx="2.25" ry="1.95" fill="#d8412f" stroke="#4a140e" stroke-width="0.65"/>
<ellipse cx="396.00" cy="228.00" rx="2.25" ry="1.95" fill="#d8412f" stroke="#4a140e" stroke-width="0.65"/>
<ellipse cx="388.00" cy="230.00" rx="2.25" ry="1.95" fill="#d8412f" stroke="#4a140e" stroke-width="0.65"/>
<ellipse cx="381.00" cy="231.00" rx="2.25" ry="1.95" fill="#d8412f" stroke="#4a140e" stroke-width="0.65"/>
<ellipse cx="376.99" cy="243.39" rx="2.25" ry="1.95" fill="#d8412f" stroke="#4a140e" stroke-width="0.65"/>
<ellipse cx="399.40" cy="242.23" rx="2.25" ry="1.95" fill="#d8412f" stroke="#4a140e" stroke-width="0.65"/>
<ellipse cx="379.62" cy="243.72" rx="2.25" ry="1.95" fill="#d8412f" stroke="#4a140e" stroke-width="0.65"/>
<ellipse cx="364.27" cy="242.80" rx="2.25" ry="1.95" fill="#d8412f" stroke="#4a140e" stroke-width="0.65"/>
<ellipse cx="385.42" cy="246.25" rx="2.25" ry="1.95" fill="#d8412f" stroke="#4a140e" stroke-width="0.65"/>
<ellipse cx="359.97" cy="243.33" rx="2.25" ry="1.95" fill="#d8412f" stroke="#4a140e" stroke-width="0.65"/>
<ellipse cx="359.81" cy="247.36" rx="2.25" ry="1.95" fill="#d8412f" stroke="#4a140e" stroke-width="0.65"/>
<ellipse cx="388.44" cy="237.02" rx="2.25" ry="1.95" fill="#d8412f" stroke="#4a140e" stroke-width="0.65"/>
<ellipse cx="402.15" cy="248.37" rx="2.25" ry="1.95" fill="#d8412f" stroke="#4a140e" stroke-width="0.65"/>
<ellipse cx="386.56" cy="244.07" rx="2.25" ry="1.95" fill="#d8412f" stroke="#4a140e" stroke-width="0.65"/>
<ellipse cx="362.98" cy="236.68" rx="2.25" ry="1.95" fill="#d8412f" stroke="#4a140e" stroke-width="0.65"/>
<ellipse cx="380.60" cy="237.23" rx="2.25" ry="1.95" fill="#d8412f" stroke="#4a140e" stroke-width="0.65"/>
<ellipse cx="364.53" cy="239.48" rx="2.25" ry="1.95" fill="#d8412f" stroke="#4a140e" stroke-width="0.65"/>
<ellipse cx="356.93" cy="247.53" rx="2.25" ry="1.95" fill="#d8412f" stroke="#4a140e" stroke-width="0.65"/>
<ellipse cx="376.43" cy="246.86" rx="2.25" ry="1.95" fill="#d8412f" stroke="#4a140e" stroke-width="0.65"/>
<ellipse cx="380.16" cy="244.38" rx="2.25" ry="1.95" fill="#d8412f" stroke="#4a140e" stroke-width="0.65"/>
<ellipse cx="379.24" cy="244.65" rx="2.25" ry="1.95" fill="#d8412f" stroke="#4a140e" stroke-width="0.65"/>
<ellipse cx="377.22" cy="239.92" rx="2.25" ry="1.95" fill="#d8412f" stroke="#4a140e" stroke-width="0.65"/>
<ellipse cx="402.89" cy="248.75" rx="2.25" ry="1.95" fill="#d8412f" stroke="#4a140e" stroke-width="0.65"/>
<ellipse cx="395.41" cy="245.21" rx="2.25" ry="1.95" fill="#d8412f" stroke="#4a140e" stroke-width="0.65"/>
<ellipse cx="370.48" cy="239.32" rx="2.25" ry="1.95" fill="#d8412f" stroke="#4a140e" stroke-width="0.65"/>
<ellipse cx="369.23" cy="237.36" rx="2.25" ry="1.95" fill="#d8412f" stroke="#4a140e" stroke-width="0.65"/>
<ellipse cx="391.90" cy="241.42" rx="2.25" ry="1.95" fill="#d8412f" stroke="#4a140e" stroke-width="0.65"/>
<ellipse cx="395.71" cy="241.25" rx="2.25" ry="1.95" fill="#d8412f" stroke="#4a140e" stroke-width="0.65"/>
<ellipse cx="401.01" cy="246.92" rx="2.25" ry="1.95" fill="#d8412f" stroke="#4a140e" stroke-width="0.65"/>
<ellipse cx="355.53" cy="248.92" rx="2.25" ry="1.95" fill="#d8412f" stroke="#4a140e" stroke-width="0.65"/>
<ellipse cx="398.74" cy="242.28" rx="2.25" ry="1.95" fill="#d8412f" stroke="#4a140e" stroke-width="0.65"/>
<ellipse cx="402.07" cy="241.39" rx="2.25" ry="1.95" fill="#d8412f" stroke="#4a140e" stroke-width="0.65"/>
<ellipse cx="358.97" cy="246.56" rx="2.25" ry="1.95" fill="#d8412f" stroke="#4a140e" stroke-width="0.65"/>
<ellipse cx="392.48" cy="239.82" rx="2.25" ry="1.95" fill="#d8412f" stroke="#4a140e" stroke-width="0.65"/>
<ellipse cx="359.64" cy="243.96" rx="2.25" ry="1.95" fill="#d8412f" stroke="#4a140e" stroke-width="0.65"/>
<ellipse cx="401.29" cy="245.82" rx="2.25" ry="1.95" fill="#d8412f" stroke="#4a140e" stroke-width="0.65"/>
<ellipse cx="361.10" cy="241.35" rx="2.25" ry="1.95" fill="#d8412f" stroke="#4a140e" stroke-width="0.65"/>
<ellipse cx="360.30" cy="240.87" rx="2.25" ry="1.95" fill="#d8412f" stroke="#4a140e" stroke-width="0.65"/>
<ellipse cx="393.36" cy="238.69" rx="2.25" ry="1.95" fill="#d8412f" stroke="#4a140e" stroke-width="0.65"/>
<ellipse cx="382.07" cy="242.00" rx="2.25" ry="1.95" fill="#d8412f" stroke="#4a140e" stroke-width="0.65"/>
<ellipse cx="364.56" cy="245.50" rx="2.25" ry="1.95" fill="#d8412f" stroke="#4a140e" stroke-width="0.65"/>
<ellipse cx="361.72" cy="244.88" rx="2.25" ry="1.95" fill="#d8412f" stroke="#4a140e" stroke-width="0.65"/>
<ellipse cx="361.03" cy="243.15" rx="2.25" ry="1.95" fill="#d8412f" stroke="#4a140e" stroke-width="0.65"/>
<ellipse cx="365.61" cy="239.82" rx="2.25" ry="1.95" fill="#d8412f" stroke="#4a140e" stroke-width="0.65"/>
<ellipse cx="401.62" cy="246.38" rx="2.25" ry="1.95" fill="#d8412f" stroke="#4a140e" stroke-width="0.65"/>
<ellipse cx="369.95" cy="247.38" rx="2.25" ry="1.95" fill="#d8412f" stroke="#4a140e" stroke-width="0.65"/>
<ellipse cx="365.51" cy="241.35" rx="2.25" ry="1.95" fill="#d8412f" stroke="#4a140e" stroke-width="0.65"/>
<ellipse cx="396.08" cy="244.39" rx="2.25" ry="1.95" fill="#d8412f" stroke="#4a140e" stroke-width="0.65"/>
<ellipse cx="360.27" cy="248.71" rx="2.25" ry="1.95" fill="#d8412f" stroke="#4a140e" stroke-width="0.65"/>
<ellipse cx="365.63" cy="239.68" rx="2.25" ry="1.95" fill="#d8412f" stroke="#4a140e" stroke-width="0.65"/>
<ellipse cx="392.20" cy="240.55" rx="2.25" ry="1.95" fill="#d8412f" stroke="#4a140e" stroke-width="0.65"/>
<ellipse cx="369.58" cy="237.40" rx="2.25" ry="1.95" fill="#d8412f" stroke="#4a140e" stroke-width="0.65"/>
<ellipse cx="359.78" cy="245.67" rx="2.25" ry="1.95" fill="#d8412f" stroke="#4a140e" stroke-width="0.65"/>
<ellipse cx="367.04" cy="243.90" rx="2.25" ry="1.95" fill="#d8412f" stroke="#4a140e" stroke-width="0.65"/>
<ellipse cx="373.16" cy="242.07" rx="2.25" ry="1.95" fill="#d8412f" stroke="#4a140e" stroke-width="0.65"/>
<ellipse cx="401.06" cy="242.45" rx="2.25" ry="1.95" fill="#d8412f" stroke="#4a140e" stroke-width="0.65"/>
<ellipse cx="382.79" cy="247.16" rx="2.25" ry="1.95" fill="#d8412f" stroke="#4a140e" stroke-width="0.65"/>
<ellipse cx="364.18" cy="238.40" rx="2.25" ry="1.95" fill="#d8412f" stroke="#4a140e" stroke-width="0.65"/>
<ellipse cx="398.65" cy="246.56" rx="2.25" ry="1.95" fill="#d8412f" stroke="#4a140e" stroke-width="0.65"/>
<ellipse cx="367.35" cy="238.83" rx="2.25" ry="1.95" fill="#d8412f" stroke="#4a140e" stroke-width="0.65"/>
<ellipse cx="390.62" cy="248.07" rx="2.25" ry="1.95" fill="#d8412f" stroke="#4a140e" stroke-width="0.65"/>
<ellipse cx="364.84" cy="248.19" rx="2.25" ry="1.95" fill="#d8412f" stroke="#4a140e" stroke-width="0.65"/>
<ellipse cx="397.40" cy="243.92" rx="2.25" ry="1.95" fill="#d8412f" stroke="#4a140e" stroke-width="0.65"/>
<ellipse cx="375.52" cy="237.78" rx="2.25" ry="1.95" fill="#d8412f" stroke="#4a140e" stroke-width="0.65"/>
<ellipse cx="357.34" cy="248.68" rx="2.25" ry="1.95" fill="#d8412f" stroke="#4a140e" stroke-width="0.65"/>
<ellipse cx="366.82" cy="245.17" rx="2.25" ry="1.95" fill="#d8412f" stroke="#4a140e" stroke-width="0.65"/>
<ellipse cx="367.71" cy="246.63" rx="2.25" ry="1.95" fill="#d8412f" stroke="#4a140e" stroke-width="0.65"/>
<ellipse cx="383.83" cy="240.11" rx="2.25" ry="1.95" fill="#d8412f" stroke="#4a140e" stroke-width="0.65"/>
<ellipse cx="363.83" cy="245.36" rx="2.25" ry="1.95" fill="#d8412f" stroke="#4a140e" stroke-width="0.65"/>
<ellipse cx="358.77" cy="244.42" rx="2.25" ry="1.95" fill="#d8412f" stroke="#4a140e" stroke-width="0.65"/>
<ellipse cx="382.07" cy="246.98" rx="2.25" ry="1.95" fill="#d8412f" stroke="#4a140e" stroke-width="0.65"/>
<ellipse cx="384.68" cy="239.95" rx="2.25" ry="1.95" fill="#d8412f" stroke="#4a140e" stroke-width="0.65"/>
<ellipse cx="399.07" cy="239.01" rx="2.25" ry="1.95" fill="#d8412f" stroke="#4a140e" stroke-width="0.65"/>
<ellipse cx="356.29" cy="247.91" rx="2.25" ry="1.95" fill="#d8412f" stroke="#4a140e" stroke-width="0.65"/>
<ellipse cx="376.67" cy="237.24" rx="2.25" ry="1.95" fill="#d8412f" stroke="#4a140e" stroke-width="0.65"/>
<ellipse cx="363.87" cy="241.04" rx="2.25" ry="1.95" fill="#d8412f" stroke="#4a140e" stroke-width="0.65"/>
<ellipse cx="382.68" cy="238.12" rx="2.25" ry="1.95" fill="#d8412f" stroke="#4a140e" stroke-width="0.65"/>
<ellipse cx="372.70" cy="247.46" rx="2.25" ry="1.95" fill="#d8412f" stroke="#4a140e" stroke-width="0.65"/>
<ellipse cx="402.07" cy="244.58" rx="2.25" ry="1.95" fill="#d8412f" stroke="#4a140e" stroke-width="0.65"/>
<ellipse cx="388.33" cy="243.69" rx="2.25" ry="1.95" fill="#d8412f" stroke="#4a140e" stroke-width="0.65"/>
<ellipse cx="362.17" cy="236.93" rx="2.25" ry="1.95" fill="#d8412f" stroke="#4a140e" stroke-width="0.65"/>
<ellipse cx="356.35" cy="248.68" rx="2.25" ry="1.95" fill="#d8412f" stroke="#4a140e" stroke-width="0.65"/>
<ellipse cx="388.80" cy="248.34" rx="2.25" ry="1.95" fill="#d8412f" stroke="#4a140e" stroke-width="0.65"/>
<ellipse cx="356.51" cy="248.21" rx="2.25" ry="1.95" fill="#d8412f" stroke="#4a140e" stroke-width="0.65"/>
<ellipse cx="378.41" cy="245.49" rx="2.25" ry="1.95" fill="#d8412f" stroke="#4a140e" stroke-width="0.65"/>
<ellipse cx="370.65" cy="248.79" rx="2.25" ry="1.95" fill="#d8412f" stroke="#4a140e" stroke-width="0.65"/>
<ellipse cx="359.07" cy="245.97" rx="2.25" ry="1.95" fill="#d8412f" stroke="#4a140e" stroke-width="0.65"/>
<ellipse cx="390.51" cy="247.57" rx="2.25" ry="1.95" fill="#d8412f" stroke="#4a140e" stroke-width="0.65"/>
<ellipse cx="390.51" cy="245.16" rx="2.25" ry="1.95" fill="#d8412f" stroke="#4a140e" stroke-width="0.65"/>
<ellipse cx="393.18" cy="247.75" rx="2.25" ry="1.95" fill="#d8412f" stroke="#4a140e" stroke-width="0.65"/>
<ellipse cx="372.21" cy="244.93" rx="2.25" ry="1.95" fill="#d8412f" stroke="#4a140e" stroke-width="0.65"/>
<ellipse cx="398.29" cy="247.21" rx="2.25" ry="1.95" fill="#d8412f" stroke="#4a140e" stroke-width="0.65"/>
<ellipse cx="375.31" cy="246.22" rx="2.25" ry="1.95" fill="#d8412f" stroke="#4a140e" stroke-width="0.65"/>
<ellipse cx="396.51" cy="243.55" rx="2.25" ry="1.95" fill="#d8412f" stroke="#4a140e" stroke-width="0.65"/>
<ellipse cx="385.19" cy="241.20" rx="2.25" ry="1.95" fill="#d8412f" stroke="#4a140e" stroke-width="0.65"/>
<ellipse cx="383.18" cy="243.99" rx="2.25" ry="1.95" fill="#d8412f" stroke="#4a140e" stroke-width="0.65"/>
<ellipse cx="359.31" cy="246.40" rx="2.25" ry="1.95" fill="#d8412f" stroke="#4a140e" stroke-width="0.65"/>
<ellipse cx="402.68" cy="247.32" rx="2.25" ry="1.95" fill="#d8412f" stroke="#4a140e" stroke-width="0.65"/>
<ellipse cx="390.09" cy="241.28" rx="2.25" ry="1.95" fill="#d8412f" stroke="#4a140e" stroke-width="0.65"/>
<ellipse cx="395.40" cy="231.55" rx="2.25" ry="1.95" fill="#d8412f" stroke="#4a140e" stroke-width="0.65"/>
<ellipse cx="383.62" cy="234.90" rx="2.25" ry="1.95" fill="#d8412f" stroke="#4a140e" stroke-width="0.65"/>
<ellipse cx="390.05" cy="230.25" rx="2.25" ry="1.95" fill="#d8412f" stroke="#4a140e" stroke-width="0.65"/>
<ellipse cx="390.58" cy="235.97" rx="2.25" ry="1.95" fill="#d8412f" stroke="#4a140e" stroke-width="0.65"/>
<ellipse cx="393.13" cy="226.63" rx="2.25" ry="1.95" fill="#d8412f" stroke="#4a140e" stroke-width="0.65"/>
<ellipse cx="372.78" cy="235.77" rx="2.25" ry="1.95" fill="#d8412f" stroke="#4a140e" stroke-width="0.65"/>
<ellipse cx="383.68" cy="235.59" rx="2.25" ry="1.95" fill="#d8412f" stroke="#4a140e" stroke-width="0.65"/>
<ellipse cx="383.24" cy="234.48" rx="2.25" ry="1.95" fill="#d8412f" stroke="#4a140e" stroke-width="0.65"/>
<ellipse cx="402.57" cy="235.44" rx="2.25" ry="1.95" fill="#d8412f" stroke="#4a140e" stroke-width="0.65"/>
<ellipse cx="381.38" cy="231.58" rx="2.25" ry="1.95" fill="#d8412f" stroke="#4a140e" stroke-width="0.65"/>
<ellipse cx="399.48" cy="235.03" rx="2.25" ry="1.95" fill="#d8412f" stroke="#4a140e" stroke-width="0.65"/>
<ellipse cx="394.45" cy="236.35" rx="2.25" ry="1.95" fill="#d8412f" stroke="#4a140e" stroke-width="0.65"/>
<ellipse cx="391.03" cy="230.42" rx="2.25" ry="1.95" fill="#d8412f" stroke="#4a140e" stroke-width="0.65"/>
<ellipse cx="378.61" cy="234.91" rx="2.25" ry="1.95" fill="#d8412f" stroke="#4a140e" stroke-width="0.65"/>
<ellipse cx="384.10" cy="224.97" rx="2.25" ry="1.95" fill="#d8412f" stroke="#4a140e" stroke-width="0.65"/>
<ellipse cx="394.35" cy="231.42" rx="2.25" ry="1.95" fill="#d8412f" stroke="#4a140e" stroke-width="0.65"/>
<ellipse cx="399.19" cy="227.09" rx="2.25" ry="1.95" fill="#d8412f" stroke="#4a140e" stroke-width="0.65"/>
<ellipse cx="371.63" cy="224.61" rx="2.25" ry="1.95" fill="#d8412f" stroke="#4a140e" stroke-width="0.65"/>
<ellipse cx="383.86" cy="232.19" rx="2.25" ry="1.95" fill="#d8412f" stroke="#4a140e" stroke-width="0.65"/>
<ellipse cx="392.20" cy="234.50" rx="2.25" ry="1.95" fill="#d8412f" stroke="#4a140e" stroke-width="0.65"/>
<ellipse cx="407.50" cy="217.11" rx="2.25" ry="1.95" fill="#d8412f" stroke="#4a140e" stroke-width="0.65"/>
<ellipse cx="398.39" cy="211.88" rx="2.25" ry="1.95" fill="#d8412f" stroke="#4a140e" stroke-width="0.65"/>
<ellipse cx="398.14" cy="200.27" rx="2.25" ry="1.95" fill="#d8412f" stroke="#4a140e" stroke-width="0.65"/>
<ellipse cx="401.67" cy="217.85" rx="2.25" ry="1.95" fill="#d8412f" stroke="#4a140e" stroke-width="0.65"/>
<ellipse cx="398.15" cy="206.81" rx="2.25" ry="1.95" fill="#d8412f" stroke="#4a140e" stroke-width="0.65"/>
<ellipse cx="400.15" cy="217.43" rx="2.25" ry="1.95" fill="#d8412f" stroke="#4a140e" stroke-width="0.65"/>
<ellipse cx="402.25" cy="215.36" rx="2.25" ry="1.95" fill="#d8412f" stroke="#4a140e" stroke-width="0.65"/>
<ellipse cx="405.07" cy="209.84" rx="2.25" ry="1.95" fill="#d8412f" stroke="#4a140e" stroke-width="0.65"/>
<ellipse cx="405.50" cy="222.66" rx="2.25" ry="1.95" fill="#d8412f" stroke="#4a140e" stroke-width="0.65"/>
<ellipse cx="397.05" cy="223.32" rx="2.25" ry="1.95" fill="#d8412f" stroke="#4a140e" stroke-width="0.65"/>
<ellipse cx="404.67" cy="203.25" rx="2.25" ry="1.95" fill="#d8412f" stroke="#4a140e" stroke-width="0.65"/>
<ellipse cx="401.44" cy="215.64" rx="2.25" ry="1.95" fill="#d8412f" stroke="#4a140e" stroke-width="0.65"/>
<text x="329.20" y="188.60" font-size="7.8" font-weight="bold" fill="#000" text-anchor="start" stroke="#000" stroke-width="0.15" textLength="8.10" lengthAdjust="spacingAndGlyphs">37</text>
<text x="351.10" y="188.60" font-size="7.8" font-weight="bold" fill="#000" text-anchor="start" stroke="#000" stroke-width="0.15" textLength="13.00" lengthAdjust="spacingAndGlyphs">257</text>
<text x="299.80" y="140.30" font-size="9" font-weight="bold" fill="#000" text-anchor="start" stroke="#000" stroke-width="0.18" textLength="101.50" lengthAdjust="spacingAndGlyphs">Monocytes/Macrophages</text>
<text x="319.90" y="150.60" font-size="7.8" font-weight="bold" fill="#000" text-anchor="start" stroke="#000" stroke-width="0.15" textLength="61.80" lengthAdjust="spacingAndGlyphs">Preterm vs. Term</text>
<text x="336.00" y="285.20" font-size="7.6" font-weight="bold" fill="#000" text-anchor="start">log</text>
<text x="347.50" y="287.30" font-size="4.8" font-weight="bold" fill="#000" text-anchor="start">2</text>
<text x="350.30" y="285.20" font-size="7.6" font-weight="bold" fill="#000" text-anchor="start">FC</text>
<text transform="translate(279,247.7) rotate(-90)" font-size="7" font-weight="bold" fill="#000" textLength="84" lengthAdjust="spacingAndGlyphs">-log<tspan font-size="4.6" dy="1.5">10</tspan><tspan dy="-1.5">(adjusted p value)</tspan></text>
<text x="254.90" y="282.50" font-size="8" font-weight="bold" fill="#000" text-anchor="start">c</text>
<line x1="92.40" y1="330.50" x2="92.40" y2="424.40" stroke="#777" stroke-width="1.2"/>
<line x1="90.40" y1="424.20" x2="92.40" y2="424.20" stroke="#777" stroke-width="0.8"/>
<text x="88.00" y="426.40" font-size="6" font-weight="normal" fill="#333" text-anchor="end" stroke="#333" stroke-width="0.08" textLength="13.50" lengthAdjust="spacingAndGlyphs">0.00</text>
<line x1="90.40" y1="409.40" x2="92.40" y2="409.40" stroke="#777" stroke-width="0.8"/>
<text x="88.00" y="411.60" font-size="6" font-weight="normal" fill="#333" text-anchor="end" stroke="#333" stroke-width="0.08" textLength="13.50" lengthAdjust="spacingAndGlyphs">0.05</text>
<line x1="90.40" y1="394.60" x2="92.40" y2="394.60" stroke="#777" stroke-width="0.8"/>
<text x="88.00" y="396.80" font-size="6" font-weight="normal" fill="#333" text-anchor="end" stroke="#333" stroke-width="0.08" textLength="13.50" lengthAdjust="spacingAndGlyphs">0.10</text>
<line x1="90.40" y1="379.80" x2="92.40" y2="379.80" stroke="#777" stroke-width="0.8"/>
<text x="88.00" y="382.00" font-size="6" font-weight="normal" fill="#333" text-anchor="end" stroke="#333" stroke-width="0.08" textLength="13.50" lengthAdjust="spacingAndGlyphs">0.15</text>
<line x1="90.40" y1="365.00" x2="92.40" y2="365.00" stroke="#777" stroke-width="0.8"/>
<text x="88.00" y="367.20" font-size="6" font-weight="normal" fill="#333" text-anchor="end" stroke="#333" stroke-width="0.08" textLength="13.50" lengthAdjust="spacingAndGlyphs">0.20</text>
<line x1="90.40" y1="350.20" x2="92.40" y2="350.20" stroke="#777" stroke-width="0.8"/>
<text x="88.00" y="352.40" font-size="6" font-weight="normal" fill="#333" text-anchor="end" stroke="#333" stroke-width="0.08" textLength="13.50" lengthAdjust="spacingAndGlyphs">0.25</text>
<line x1="90.40" y1="335.40" x2="92.40" y2="335.40" stroke="#777" stroke-width="0.8"/>
<text x="88.00" y="337.60" font-size="6" font-weight="normal" fill="#333" text-anchor="end" stroke="#333" stroke-width="0.08" textLength="13.50" lengthAdjust="spacingAndGlyphs">0.30</text>
<line x1="90.40" y1="320.60" x2="92.40" y2="320.60" stroke="#777" stroke-width="0.8"/>
<text x="88.00" y="322.80" font-size="6" font-weight="normal" fill="#333" text-anchor="end" stroke="#333" stroke-width="0.08" textLength="13.50" lengthAdjust="spacingAndGlyphs">0.35</text>
<line x1="92.40" y1="424.20" x2="208.20" y2="424.20" stroke="#777" stroke-width="1.2"/>
<line x1="92.40" y1="424.20" x2="92.40" y2="426.20" stroke="#777" stroke-width="0.8"/>
<text x="92.40" y="431.80" font-size="6.2" font-weight="normal" fill="#333" text-anchor="middle" stroke="#333" stroke-width="0.08" textLength="9.00" lengthAdjust="spacingAndGlyphs">0.0</text>
<line x1="106.73" y1="424.20" x2="106.73" y2="426.20" stroke="#777" stroke-width="0.8"/>
<text x="106.73" y="431.80" font-size="6.2" font-weight="normal" fill="#333" text-anchor="middle" stroke="#333" stroke-width="0.08" textLength="9.00" lengthAdjust="spacingAndGlyphs">0.2</text>
<line x1="121.06" y1="424.20" x2="121.06" y2="426.20" stroke="#777" stroke-width="0.8"/>
<text x="121.06" y="431.80" font-size="6.2" font-weight="normal" fill="#333" text-anchor="middle" stroke="#333" stroke-width="0.08" textLength="9.00" lengthAdjust="spacingAndGlyphs">0.4</text>
<line x1="135.39" y1="424.20" x2="135.39" y2="426.20" stroke="#777" stroke-width="0.8"/>
<text x="135.39" y="431.80" font-size="6.2" font-weight="normal" fill="#333" text-anchor="middle" stroke="#333" stroke-width="0.08" textLength="9.00" lengthAdjust="spacingAndGlyphs">0.6</text>
<line x1="149.72" y1="424.20" x2="149.72" y2="426.20" stroke="#777" stroke-width="0.8"/>
<text x="149.72" y="431.80" font-size="6.2" font-weight="normal" fill="#333" text-anchor="middle" stroke="#333" stroke-width="0.08" textLength="9.00" lengthAdjust="spacingAndGlyphs">0.8</text>
<line x1="164.05" y1="424.20" x2="164.05" y2="426.20" stroke="#777" stroke-width="0.8"/>
<text x="164.05" y="431.80" font-size="6.2" font-weight="normal" fill="#333" text-anchor="middle" stroke="#333" stroke-width="0.08" textLength="9.00" lengthAdjust="spacingAndGlyphs">1.0</text>
<line x1="178.38" y1="424.20" x2="178.38" y2="426.20" stroke="#777" stroke-width="0.8"/>
<text x="178.38" y="431.80" font-size="6.2" font-weight="normal" fill="#333" text-anchor="middle" stroke="#333" stroke-width="0.08" textLength="9.00" lengthAdjust="spacingAndGlyphs">1.2</text>
<line x1="192.71" y1="424.20" x2="192.71" y2="426.20" stroke="#777" stroke-width="0.8"/>
<text x="192.71" y="431.80" font-size="6.2" font-weight="normal" fill="#333" text-anchor="middle" stroke="#333" stroke-width="0.08" textLength="9.00" lengthAdjust="spacingAndGlyphs">1.4</text>
<line x1="207.04" y1="424.20" x2="207.04" y2="426.20" stroke="#777" stroke-width="0.8"/>
<text x="207.04" y="431.80" font-size="6.2" font-weight="normal" fill="#333" text-anchor="middle" stroke="#333" stroke-width="0.08" textLength="9.00" lengthAdjust="spacingAndGlyphs">1.6</text>
<ellipse cx="91.50" cy="325.30" rx="4.80" ry="4.80" fill="#000" stroke="#000" stroke-width="0.5" fill-opacity="0.9"/>
<ellipse cx="95.50" cy="324.80" rx="4.60" ry="4.60" fill="#000" stroke="#000" stroke-width="0.5" fill-opacity="0.9"/>
<ellipse cx="99.50" cy="324.80" rx="4.80" ry="4.80" fill="#000" stroke="#000" stroke-width="0.5" fill-opacity="0.9"/>
<ellipse cx="102.80" cy="325.30" rx="4.60" ry="4.60" fill="#000" stroke="#000" stroke-width="0.5" fill-opacity="0.9"/>
<ellipse cx="101.20" cy="328.50" rx="4.20" ry="4.20" fill="#000" stroke="#000" stroke-width="0.5" fill-opacity="0.9"/>
<ellipse cx="97.00" cy="327.00" rx="4.20" ry="4.20" fill="#000" stroke="#000" stroke-width="0.5" fill-opacity="0.9"/>
<ellipse cx="124.90" cy="325.30" rx="5.00" ry="4.40" fill="#333" stroke="#000" stroke-width="0.5" fill-opacity="0.95"/>
<ellipse cx="101.10" cy="336.60" rx="4.30" ry="4.30" fill="#444" stroke="#000" stroke-width="0.5" fill-opacity="0.9"/>
<ellipse cx="101.10" cy="344.40" rx="4.50" ry="4.50" fill="#444" stroke="#000" stroke-width="0.5" fill-opacity="0.9"/>
<ellipse cx="101.10" cy="347.50" rx="4.00" ry="4.00" fill="#111" stroke="#000" stroke-width="0.5" fill-opacity="0.95"/>
<ellipse cx="101.10" cy="362.50" rx="4.80" ry="4.80" fill="#444" stroke="#000" stroke-width="0.5" fill-opacity="0.9"/>
<ellipse cx="99.50" cy="377.50" rx="5.60" ry="5.60" fill="#444" stroke="#000" stroke-width="0.5" fill-opacity="0.9"/>
<ellipse cx="101.20" cy="385.30" rx="4.50" ry="4.50" fill="#444" stroke="#000" stroke-width="0.5" fill-opacity="0.9"/>
<ellipse cx="99.90" cy="391.90" rx="5.00" ry="5.00" fill="#111" stroke="#000" stroke-width="0.5" fill-opacity="0.95"/>
<ellipse cx="93.60" cy="413.50" rx="5.20" ry="5.20" fill="#444" stroke="#000" stroke-width="0.5" fill-opacity="0.9"/>
<ellipse cx="101.20" cy="414.10" rx="4.80" ry="4.80" fill="#111" stroke="#000" stroke-width="0.5" fill-opacity="0.95"/>
<ellipse cx="100.10" cy="419.50" rx="5.50" ry="5.50" fill="#000" stroke="#000" stroke-width="0.5" fill-opacity="0.95"/>
<ellipse cx="96.00" cy="424.00" rx="5.50" ry="5.50" fill="#000" stroke="#000" stroke-width="0.5" fill-opacity="0.95"/>
<ellipse cx="102.00" cy="424.50" rx="5.50" ry="5.50" fill="#000" stroke="#000" stroke-width="0.5" fill-opacity="0.95"/>
<ellipse cx="98.00" cy="421.00" rx="5.00" ry="5.00" fill="#000" stroke="#000" stroke-width="0.5" fill-opacity="0.95"/>
<ellipse cx="104.00" cy="420.00" rx="4.50" ry="4.50" fill="#000" stroke="#000" stroke-width="0.5" fill-opacity="0.95"/>
<ellipse cx="116.90" cy="413.50" rx="3.40" ry="3.40" fill="#444" stroke="#000" stroke-width="0.5" fill-opacity="0.9"/>
<ellipse cx="116.50" cy="424.00" rx="3.40" ry="3.40" fill="#000" stroke="#000" stroke-width="0.5" fill-opacity="0.95"/>
<ellipse cx="122.40" cy="424.00" rx="4.50" ry="4.50" fill="#000" stroke="#000" stroke-width="0.5" fill-opacity="0.95"/>
<ellipse cx="125.00" cy="423.70" rx="5.80" ry="5.80" fill="#222" stroke="#000" stroke-width="0.5" fill-opacity="0.85"/>
<ellipse cx="161.60" cy="424.00" rx="4.20" ry="4.00" fill="#333" stroke="#000" stroke-width="0.5" fill-opacity="0.95"/>
<ellipse cx="199.50" cy="424.00" rx="3.60" ry="3.40" fill="#e06450" stroke="#5a1a12" stroke-width="0.6"/>
<line x1="188.40" y1="407.60" x2="197.90" y2="421.00" stroke="#000" stroke-width="0.7"/>
<text x="162.80" y="405.30" font-size="5.6" font-weight="bold" fill="#000" text-anchor="start" stroke="#000" stroke-width="0.15" textLength="66.90" lengthAdjust="spacingAndGlyphs">Propanoate metabolism</text>
<text x="128.10" y="302.00" font-size="9" font-weight="bold" fill="#000" text-anchor="start" stroke="#000" stroke-width="0.18" textLength="46.80" lengthAdjust="spacingAndGlyphs">Neutrophils</text>
<text x="114.50" y="311.20" font-size="7.6" font-weight="bold" fill="#000" text-anchor="start" stroke="#000" stroke-width="0.15" textLength="74.60" lengthAdjust="spacingAndGlyphs">Biological Pathways</text>
<text x="132.9" y="442" font-size="7.6" font-weight="bold" textLength="45.5" lengthAdjust="spacingAndGlyphs">-log<tspan font-size="4.8" dy="1.8">10</tspan><tspan dy="-1.8">(pORA)</tspan></text>
<text transform="translate(71.4,391.4) rotate(-90)" font-size="6.8" font-weight="bold" textLength="43.6" lengthAdjust="spacingAndGlyphs">-log<tspan font-size="4.8" dy="1.6">10</tspan><tspan dy="-1.6">(pAcc)</tspan></text>
<text x="54.70" y="443.70" font-size="7.8" font-weight="bold" fill="#000" text-anchor="start">d</text>
<line x1="290.20" y1="320.50" x2="290.20" y2="424.40" stroke="#777" stroke-width="1.2"/>
<line x1="288.20" y1="424.00" x2="290.20" y2="424.00" stroke="#777" stroke-width="0.8"/>
<text x="286.40" y="426.20" font-size="6.2" font-weight="normal" fill="#333" text-anchor="end" stroke="#333" stroke-width="0.08" textLength="8.50" lengthAdjust="spacingAndGlyphs">0.0</text>
<line x1="288.20" y1="403.30" x2="290.20" y2="403.30" stroke="#777" stroke-width="0.8"/>
<text x="286.40" y="405.50" font-size="6.2" font-weight="normal" fill="#333" text-anchor="end" stroke="#333" stroke-width="0.08" textLength="8.50" lengthAdjust="spacingAndGlyphs">0.2</text>
<line x1="288.20" y1="382.60" x2="290.20" y2="382.60" stroke="#777" stroke-width="0.8"/>
<text x="286.40" y="384.80" font-size="6.2" font-weight="normal" fill="#333" text-anchor="end" stroke="#333" stroke-width="0.08" textLength="8.50" lengthAdjust="spacingAndGlyphs">0.4</text>
<line x1="288.20" y1="361.90" x2="290.20" y2="361.90" stroke="#777" stroke-width="0.8"/>
<text x="286.40" y="364.10" font-size="6.2" font-weight="normal" fill="#333" text-anchor="end" stroke="#333" stroke-width="0.08" textLength="8.50" lengthAdjust="spacingAndGlyphs">0.6</text>
<line x1="288.20" y1="341.20" x2="290.20" y2="341.20" stroke="#777" stroke-width="0.8"/>
<text x="286.40" y="343.40" font-size="6.2" font-weight="normal" fill="#333" text-anchor="end" stroke="#333" stroke-width="0.08" textLength="8.50" lengthAdjust="spacingAndGlyphs">0.8</text>
<line x1="288.20" y1="320.50" x2="290.20" y2="320.50" stroke="#777" stroke-width="0.8"/>
<text x="286.40" y="322.70" font-size="6.2" font-weight="normal" fill="#333" text-anchor="end" stroke="#333" stroke-width="0.08" textLength="8.50" lengthAdjust="spacingAndGlyphs">1.0</text>
<line x1="290.20" y1="424.00" x2="405.80" y2="424.00" stroke="#777" stroke-width="1.2"/>
<line x1="290.20" y1="424.00" x2="290.20" y2="426.00" stroke="#777" stroke-width="0.8"/>
<text x="290.20" y="431.80" font-size="6.2" font-weight="normal" fill="#333" text-anchor="middle" stroke="#333" stroke-width="0.08" textLength="12.60" lengthAdjust="spacingAndGlyphs">0.00</text>
<line x1="306.70" y1="424.00" x2="306.70" y2="426.00" stroke="#777" stroke-width="0.8"/>
<text x="306.70" y="431.80" font-size="6.2" font-weight="normal" fill="#333" text-anchor="middle" stroke="#333" stroke-width="0.08" textLength="12.60" lengthAdjust="spacingAndGlyphs">0.05</text>
<line x1="323.20" y1="424.00" x2="323.20" y2="426.00" stroke="#777" stroke-width="0.8"/>
<text x="323.20" y="431.80" font-size="6.2" font-weight="normal" fill="#333" text-anchor="middle" stroke="#333" stroke-width="0.08" textLength="12.60" lengthAdjust="spacingAndGlyphs">0.10</text>
<line x1="339.70" y1="424.00" x2="339.70" y2="426.00" stroke="#777" stroke-width="0.8"/>
<text x="339.70" y="431.80" font-size="6.2" font-weight="normal" fill="#333" text-anchor="middle" stroke="#333" stroke-width="0.08" textLength="12.60" lengthAdjust="spacingAndGlyphs">0.15</text>
<line x1="356.20" y1="424.00" x2="356.20" y2="426.00" stroke="#777" stroke-width="0.8"/>
<text x="356.20" y="431.80" font-size="6.2" font-weight="normal" fill="#333" text-anchor="middle" stroke="#333" stroke-width="0.08" textLength="12.60" lengthAdjust="spacingAndGlyphs">0.20</text>
<line x1="372.70" y1="424.00" x2="372.70" y2="426.00" stroke="#777" stroke-width="0.8"/>
<text x="372.70" y="431.80" font-size="6.2" font-weight="normal" fill="#333" text-anchor="middle" stroke="#333" stroke-width="0.08" textLength="12.60" lengthAdjust="spacingAndGlyphs">0.25</text>
<line x1="389.20" y1="424.00" x2="389.20" y2="426.00" stroke="#777" stroke-width="0.8"/>
<text x="389.20" y="431.80" font-size="6.2" font-weight="normal" fill="#333" text-anchor="middle" stroke="#333" stroke-width="0.08" textLength="12.60" lengthAdjust="spacingAndGlyphs">0.30</text>
<line x1="405.70" y1="424.00" x2="405.70" y2="426.00" stroke="#777" stroke-width="0.8"/>
<text x="405.70" y="431.80" font-size="6.2" font-weight="normal" fill="#333" text-anchor="middle" stroke="#333" stroke-width="0.08" textLength="12.60" lengthAdjust="spacingAndGlyphs">0.35</text>
<ellipse cx="293.09" cy="425.50" rx="5.20" ry="5.20" fill="#000" stroke="#000" stroke-width="0.5" fill-opacity="0.9"/>
<ellipse cx="293.38" cy="423.40" rx="5.20" ry="5.20" fill="#000" stroke="#000" stroke-width="0.5" fill-opacity="0.9"/>
<ellipse cx="293.51" cy="421.30" rx="5.20" ry="5.20" fill="#000" stroke="#000" stroke-width="0.5" fill-opacity="0.9"/>
<ellipse cx="293.86" cy="419.20" rx="5.20" ry="5.20" fill="#000" stroke="#000" stroke-width="0.5" fill-opacity="0.9"/>
<ellipse cx="293.38" cy="417.10" rx="5.20" ry="5.20" fill="#000" stroke="#000" stroke-width="0.5" fill-opacity="0.9"/>
<ellipse cx="293.81" cy="415.00" rx="5.20" ry="5.20" fill="#000" stroke="#000" stroke-width="0.5" fill-opacity="0.9"/>
<ellipse cx="291.67" cy="412.90" rx="5.20" ry="5.20" fill="#000" stroke="#000" stroke-width="0.5" fill-opacity="0.9"/>
<ellipse cx="292.72" cy="410.80" rx="5.20" ry="5.20" fill="#000" stroke="#000" stroke-width="0.5" fill-opacity="0.9"/>
<ellipse cx="293.86" cy="408.70" rx="5.20" ry="5.20" fill="#000" stroke="#000" stroke-width="0.5" fill-opacity="0.9"/>
<ellipse cx="293.16" cy="406.60" rx="5.20" ry="5.20" fill="#000" stroke="#000" stroke-width="0.5" fill-opacity="0.9"/>
<ellipse cx="293.76" cy="404.50" rx="5.20" ry="5.20" fill="#000" stroke="#000" stroke-width="0.5" fill-opacity="0.9"/>
<ellipse cx="291.87" cy="402.40" rx="5.20" ry="5.20" fill="#000" stroke="#000" stroke-width="0.5" fill-opacity="0.9"/>
<ellipse cx="292.73" cy="400.30" rx="5.20" ry="5.20" fill="#000" stroke="#000" stroke-width="0.5" fill-opacity="0.9"/>
<ellipse cx="292.19" cy="398.20" rx="5.20" ry="5.20" fill="#000" stroke="#000" stroke-width="0.5" fill-opacity="0.9"/>
<ellipse cx="292.91" cy="396.10" rx="5.20" ry="5.20" fill="#000" stroke="#000" stroke-width="0.5" fill-opacity="0.9"/>
<ellipse cx="292.98" cy="394.00" rx="5.20" ry="5.20" fill="#000" stroke="#000" stroke-width="0.5" fill-opacity="0.9"/>
<ellipse cx="291.63" cy="391.90" rx="5.20" ry="5.20" fill="#000" stroke="#000" stroke-width="0.5" fill-opacity="0.9"/>
<ellipse cx="292.12" cy="389.80" rx="5.20" ry="5.20" fill="#000" stroke="#000" stroke-width="0.5" fill-opacity="0.9"/>
<ellipse cx="292.27" cy="387.70" rx="5.20" ry="5.20" fill="#000" stroke="#000" stroke-width="0.5" fill-opacity="0.9"/>
<ellipse cx="293.80" cy="385.60" rx="5.20" ry="5.20" fill="#000" stroke="#000" stroke-width="0.5" fill-opacity="0.9"/>
<ellipse cx="293.44" cy="383.50" rx="5.20" ry="5.20" fill="#000" stroke="#000" stroke-width="0.5" fill-opacity="0.9"/>
<ellipse cx="291.98" cy="381.40" rx="5.20" ry="5.20" fill="#000" stroke="#000" stroke-width="0.5" fill-opacity="0.9"/>
<ellipse cx="293.51" cy="379.30" rx="5.20" ry="5.20" fill="#000" stroke="#000" stroke-width="0.5" fill-opacity="0.9"/>
<ellipse cx="292.80" cy="379.50" rx="5.40" ry="5.40" fill="#000" stroke="#000" stroke-width="0.5" fill-opacity="0.95"/>
<ellipse cx="345.20" cy="379.40" rx="4.30" ry="4.30" fill="#333" stroke="#000" stroke-width="0.5" fill-opacity="0.95"/>
<ellipse cx="378.30" cy="379.40" rx="2.40" ry="2.40" fill="#333" stroke="#000" stroke-width="0.5" fill-opacity="0.95"/>
<ellipse cx="392.90" cy="379.40" rx="3.80" ry="3.80" fill="#333" stroke="#000" stroke-width="0.5" fill-opacity="0.95"/>
<ellipse cx="398.60" cy="379.40" rx="3.50" ry="3.50" fill="#333" stroke="#000" stroke-width="0.5" fill-opacity="0.95"/>
<ellipse cx="336.70" cy="424.00" rx="2.00" ry="2.00" fill="#222" stroke="#000" stroke-width="0.5" fill-opacity="0.95"/>
<ellipse cx="344.20" cy="424.00" rx="2.40" ry="2.40" fill="#222" stroke="#000" stroke-width="0.5" fill-opacity="0.95"/>
<ellipse cx="393.50" cy="423.40" rx="3.50" ry="3.50" fill="#000" stroke="#000" stroke-width="0.5" fill-opacity="1"/>
<ellipse cx="393.50" cy="330.50" rx="3.50" ry="3.30" fill="#e06450" stroke="#5a1a12" stroke-width="0.6"/>
<ellipse cx="393.50" cy="348.40" rx="3.10" ry="3.00" fill="#e06450" stroke="#5a1a12" stroke-width="0.6"/>
<line x1="362.50" y1="326.00" x2="389.80" y2="330.10" stroke="#000" stroke-width="0.7"/>
<line x1="362.50" y1="359.60" x2="390.90" y2="349.40" stroke="#000" stroke-width="0.7"/>
<text x="320.10" y="324.30" font-size="5.6" font-weight="bold" fill="#000" text-anchor="start" stroke="#000" stroke-width="0.15" textLength="87.10" lengthAdjust="spacingAndGlyphs">Systemic lupus erythematosus</text>
<text x="335.60" y="365.50" font-size="5.6" font-weight="bold" fill="#000" text-anchor="start" stroke="#000" stroke-width="0.15" textLength="91.40" lengthAdjust="spacingAndGlyphs" font-style="italic">Staphylococcus aureus infection</text>
<text x="300.00" y="302.00" font-size="9" font-weight="bold" fill="#000" text-anchor="start" stroke="#000" stroke-width="0.18" textLength="101.40" lengthAdjust="spacingAndGlyphs">Monocytes/Macrophages</text>
<text x="314.10" y="311.30" font-size="7.6" font-weight="bold" fill="#000" text-anchor="start" stroke="#000" stroke-width="0.15" textLength="73.40" lengthAdjust="spacingAndGlyphs">Biological Pathways</text>
<text x="329" y="442.3" font-size="7.6" font-weight="bold" textLength="44.6" lengthAdjust="spacingAndGlyphs">-log<tspan font-size="4.8" dy="1.8">10</tspan><tspan dy="-1.8">(pORA)</tspan></text>
<text transform="translate(271.4,389.8) rotate(-90)" font-size="6.8" font-weight="bold" textLength="42" lengthAdjust="spacingAndGlyphs">-log<tspan font-size="4.8" dy="1.6">10</tspan><tspan dy="-1.6">(pAcc)</tspan></text>
<text x="254.80" y="443.80" font-size="8.2" font-weight="bold" fill="#000" text-anchor="start">e</text>
<text x="128.10" y="456.60" font-size="9" font-weight="bold" fill="#000" text-anchor="start" stroke="#000" stroke-width="0.18" textLength="46.70" lengthAdjust="spacingAndGlyphs">Neutrophils</text>
<text x="103.80" y="465.90" font-size="7.6" font-weight="bold" fill="#000" text-anchor="start" stroke="#000" stroke-width="0.15" textLength="92.30" lengthAdjust="spacingAndGlyphs">GO:Biological Processes</text>
<text x="115.80" y="475.00" font-size="7.6" font-weight="bold" fill="#000" text-anchor="start" stroke="#000" stroke-width="0.15" textLength="69.30" lengthAdjust="spacingAndGlyphs">Upregulated genes</text>
<text x="76.00" y="484.30" font-size="4.1" font-weight="bold" fill="#000" text-anchor="start" stroke="#000" stroke-width="0.2" textLength="76.60" lengthAdjust="spacingAndGlyphs">Mitochondrial translational elongation</text>
<line x1="153.00" y1="483.30" x2="157.50" y2="483.30" stroke="#000" stroke-width="0.8"/>
<rect x="158.1" y="480.55" width="49.40" height="5.5" fill="#cf4a2c" stroke="#111" stroke-width="0.7"/>
<text x="74.40" y="493.50" font-size="4.1" font-weight="bold" fill="#000" text-anchor="start" stroke="#000" stroke-width="0.2" textLength="78.20" lengthAdjust="spacingAndGlyphs">Mitochondrial translational termination</text>
<line x1="153.00" y1="492.50" x2="157.50" y2="492.50" stroke="#000" stroke-width="0.8"/>
<rect x="158.1" y="489.75" width="49.40" height="5.5" fill="#cf4a2c" stroke="#111" stroke-width="0.7"/>
<text x="104.30" y="502.70" font-size="4.1" font-weight="bold" fill="#000" text-anchor="start" stroke="#000" stroke-width="0.2" textLength="48.30" lengthAdjust="spacingAndGlyphs">Translational elongation</text>
<line x1="153.00" y1="501.70" x2="157.50" y2="501.70" stroke="#000" stroke-width="0.8"/>
<rect x="158.1" y="498.95" width="46.90" height="5.5" fill="#cf4a2c" stroke="#111" stroke-width="0.7"/>
<text x="90.80" y="511.80" font-size="4.1" font-weight="bold" fill="#000" text-anchor="start" stroke="#000" stroke-width="0.2" textLength="61.80" lengthAdjust="spacingAndGlyphs">Mitochondrial gene expression</text>
<line x1="153.00" y1="510.80" x2="157.50" y2="510.80" stroke="#000" stroke-width="0.8"/>
<rect x="158.1" y="508.05" width="46.90" height="5.5" fill="#cf4a2c" stroke="#111" stroke-width="0.7"/>
<text x="102.30" y="520.60" font-size="4.1" font-weight="bold" fill="#000" text-anchor="start" stroke="#000" stroke-width="0.2" textLength="50.30" lengthAdjust="spacingAndGlyphs">Translational termination</text>
<line x1="153.00" y1="519.60" x2="157.50" y2="519.60" stroke="#000" stroke-width="0.8"/>
<rect x="158.1" y="516.85" width="46.20" height="5.5" fill="#cf4a2c" stroke="#111" stroke-width="0.7"/>
<text x="101.90" y="529.70" font-size="4.1" font-weight="bold" fill="#000" text-anchor="start" stroke="#000" stroke-width="0.2" textLength="50.70" lengthAdjust="spacingAndGlyphs">Mitochondrial translation</text>
<line x1="153.00" y1="528.70" x2="157.50" y2="528.70" stroke="#000" stroke-width="0.8"/>
<rect x="158.1" y="525.95" width="38.40" height="5.5" fill="#cf4a2c" stroke="#111" stroke-width="0.7"/>
<text x="77.10" y="539.20" font-size="4.1" font-weight="bold" fill="#000" text-anchor="start" stroke="#000" stroke-width="0.2" textLength="75.50" lengthAdjust="spacingAndGlyphs">Cellular protein complex disassembly</text>
<line x1="153.00" y1="538.20" x2="157.50" y2="538.20" stroke="#000" stroke-width="0.8"/>
<rect x="158.1" y="535.45" width="30.40" height="5.5" fill="#cf4a2c" stroke="#111" stroke-width="0.7"/>
<text x="85.70" y="548.10" font-size="4.1" font-weight="bold" fill="#000" text-anchor="start" stroke="#000" stroke-width="0.2" textLength="66.90" lengthAdjust="spacingAndGlyphs">Cellular amide metabolic process</text>
<line x1="153.00" y1="547.10" x2="157.50" y2="547.10" stroke="#000" stroke-width="0.8"/>
<rect x="158.1" y="544.35" width="20.90" height="5.5" fill="#cf4a2c" stroke="#111" stroke-width="0.7"/>
<text x="70.00" y="557.10" font-size="4.1" font-weight="bold" fill="#000" text-anchor="start" stroke="#000" stroke-width="0.2" textLength="82.60" lengthAdjust="spacingAndGlyphs">Protein-containing complex disassembly</text>
<line x1="153.00" y1="556.10" x2="157.50" y2="556.10" stroke="#000" stroke-width="0.8"/>
<rect x="158.1" y="553.35" width="15.20" height="5.5" fill="#cf4a2c" stroke="#111" stroke-width="0.7"/>
<text x="79.70" y="566.10" font-size="4.1" font-weight="bold" fill="#000" text-anchor="start" stroke="#000" stroke-width="0.2" textLength="72.90" lengthAdjust="spacingAndGlyphs">Sulfur compound metabolic process</text>
<line x1="153.00" y1="565.10" x2="157.50" y2="565.10" stroke="#000" stroke-width="0.8"/>
<rect x="158.1" y="562.35" width="12.50" height="5.5" fill="#cf4a2c" stroke="#111" stroke-width="0.7"/>
<line x1="157.50" y1="477.50" x2="157.50" y2="571.60" stroke="#000" stroke-width="1.1"/>
<line x1="157.00" y1="571.30" x2="217.90" y2="571.30" stroke="#000" stroke-width="1.1"/>
<line x1="157.50" y1="571.30" x2="157.50" y2="574.00" stroke="#000" stroke-width="0.9"/>
<text x="157.50" y="581.30" font-size="7" font-weight="bold" fill="#000" text-anchor="middle">0</text>
<line x1="169.52" y1="571.30" x2="169.52" y2="574.00" stroke="#000" stroke-width="0.9"/>
<text x="169.52" y="581.30" font-size="7" font-weight="bold" fill="#000" text-anchor="middle">1</text>
<line x1="181.54" y1="571.30" x2="181.54" y2="574.00" stroke="#000" stroke-width="0.9"/>
<text x="181.54" y="581.30" font-size="7" font-weight="bold" fill="#000" text-anchor="middle">2</text>
<line x1="193.56" y1="571.30" x2="193.56" y2="574.00" stroke="#000" stroke-width="0.9"/>
<text x="193.56" y="581.30" font-size="7" font-weight="bold" fill="#000" text-anchor="middle">3</text>
<line x1="205.58" y1="571.30" x2="205.58" y2="574.00" stroke="#000" stroke-width="0.9"/>
<text x="205.58" y="581.30" font-size="7" font-weight="bold" fill="#000" text-anchor="middle">4</text>
<line x1="217.60" y1="571.30" x2="217.60" y2="574.00" stroke="#000" stroke-width="0.9"/>
<text x="217.60" y="581.30" font-size="7" font-weight="bold" fill="#000" text-anchor="middle">5</text>
<path d="M172,560.3 L175.3,560.3 L175.3,569.2 L172,569.2" fill="none" stroke="#000" stroke-width="0.7"/>
<text x="177.00" y="567.60" font-size="6.6" font-weight="bold" fill="#000" text-anchor="start" textLength="7.80" lengthAdjust="spacingAndGlyphs">NS</text>
<text x="154.3" y="588.4" font-size="7" font-weight="bold" textLength="66.5" lengthAdjust="spacingAndGlyphs">-log<tspan font-size="4.5" dy="1.6">10</tspan><tspan dy="-1.6">(adjusted p value)</tspan></text>
<text x="54.60" y="601.90" font-size="8" font-weight="bold" fill="#000" text-anchor="start">f</text>
<text x="327.00" y="457.50" font-size="9" font-weight="bold" fill="#000" text-anchor="start" stroke="#000" stroke-width="0.18" textLength="46.70" lengthAdjust="spacingAndGlyphs">Neutrophils</text>
<text x="317.90" y="466.10" font-size="7.6" font-weight="bold" fill="#000" text-anchor="start" stroke="#000" stroke-width="0.15" textLength="62.00" lengthAdjust="spacingAndGlyphs">STRING Analysis</text>
<text x="313.30" y="475.00" font-size="7.6" font-weight="bold" fill="#000" text-anchor="start" stroke="#000" stroke-width="0.15" textLength="71.00" lengthAdjust="spacingAndGlyphs">Upregulated Genes</text>
<g stroke="#2a2a2a" stroke-width="0.35" fill="none">
<path d="M270.5,482.2 Q275.5,484.8 285.3,482.7"/>
<path d="M270.5,482.2 Q276.7,483.6 285.3,482.7"/>
<path d="M270.5,482.2 Q277.9,482.4 285.3,482.7"/>
<path d="M270.5,482.2 Q279.1,481.2 285.3,482.7"/>
<path d="M270.5,482.2 Q280.3,480.1 285.3,482.7"/>
<path d="M270.5,482.2 Q282.2,487.6 298.7,488.3"/>
<path d="M270.5,482.2 Q283.4,486.4 298.7,488.3"/>
<path d="M270.5,482.2 Q284.6,485.2 298.7,488.3"/>
<path d="M270.5,482.2 Q285.8,484.1 298.7,488.3"/>
<path d="M270.5,482.2 Q287.0,482.9 298.7,488.3"/>
<path d="M270.5,482.2 Q264.1,491.9 262.4,496.8"/>
<path d="M270.5,482.2 Q265.2,490.7 262.4,496.8"/>
<path d="M270.5,482.2 Q266.4,489.5 262.4,496.8"/>
<path d="M270.5,482.2 Q267.6,488.3 262.4,496.8"/>
<path d="M270.5,482.2 Q268.8,487.1 262.4,496.8"/>
<path d="M270.5,482.2 Q272.3,493.3 278.9,499.6"/>
<path d="M270.5,482.2 Q273.5,492.1 278.9,499.6"/>
<path d="M270.5,482.2 Q274.7,490.9 278.9,499.6"/>
<path d="M270.5,482.2 Q275.9,489.7 278.9,499.6"/>
<path d="M270.5,482.2 Q277.1,488.5 278.9,499.6"/>
<path d="M270.5,482.2 Q264.1,498.9 262.4,510.9"/>
<path d="M270.5,482.2 Q265.2,497.7 262.4,510.9"/>
<path d="M270.5,482.2 Q266.4,496.5 262.4,510.9"/>
<path d="M270.5,482.2 Q267.6,495.3 262.4,510.9"/>
<path d="M270.5,482.2 Q268.8,494.1 262.4,510.9"/>
<path d="M270.5,482.2 Q279.7,497.2 293.7,507.4"/>
<path d="M270.5,482.2 Q280.9,496.0 293.7,507.4"/>
<path d="M270.5,482.2 Q282.1,494.8 293.7,507.4"/>
<path d="M270.5,482.2 Q283.3,493.6 293.7,507.4"/>
<path d="M270.5,482.2 Q284.5,492.4 293.7,507.4"/>
<path d="M270.5,482.2 Q272.7,501.0 279.6,515.1"/>
<path d="M270.5,482.2 Q273.9,499.8 279.6,515.1"/>
<path d="M270.5,482.2 Q275.1,498.6 279.6,515.1"/>
<path d="M270.5,482.2 Q276.2,497.4 279.6,515.1"/>
<path d="M270.5,482.2 Q277.4,496.2 279.6,515.1"/>
<path d="M285.3,482.7 Q289.6,487.9 298.7,488.3"/>
<path d="M285.3,482.7 Q290.8,486.7 298.7,488.3"/>
<path d="M285.3,482.7 Q292.0,485.5 298.7,488.3"/>
<path d="M285.3,482.7 Q293.2,484.3 298.7,488.3"/>
<path d="M285.3,482.7 Q294.4,483.1 298.7,488.3"/>
<path d="M285.3,482.7 Q271.5,492.1 262.4,496.8"/>
<path d="M285.3,482.7 Q272.7,490.9 262.4,496.8"/>
<path d="M285.3,482.7 Q273.9,489.8 262.4,496.8"/>
<path d="M285.3,482.7 Q275.1,488.6 262.4,496.8"/>
<path d="M285.3,482.7 Q276.2,487.4 262.4,496.8"/>
<path d="M285.3,482.7 Q279.7,493.5 278.9,499.6"/>
<path d="M285.3,482.7 Q280.9,492.3 278.9,499.6"/>
<path d="M285.3,482.7 Q282.1,491.1 278.9,499.6"/>
<path d="M285.3,482.7 Q283.3,489.9 278.9,499.6"/>
<path d="M285.3,482.7 Q284.5,488.8 278.9,499.6"/>
<path d="M285.3,482.7 Q294.2,494.9 307.8,502.4"/>
<path d="M285.3,482.7 Q295.4,493.7 307.8,502.4"/>
<path d="M285.3,482.7 Q296.6,492.5 307.8,502.4"/>
<path d="M285.3,482.7 Q297.8,491.3 307.8,502.4"/>
<path d="M285.3,482.7 Q298.9,490.1 307.8,502.4"/>
<path d="M285.3,482.7 Q287.1,497.4 293.7,507.4"/>
<path d="M285.3,482.7 Q288.3,496.2 293.7,507.4"/>
<path d="M285.3,482.7 Q289.5,495.0 293.7,507.4"/>
<path d="M285.3,482.7 Q290.7,493.8 293.7,507.4"/>
<path d="M285.3,482.7 Q291.9,492.6 293.7,507.4"/>
<path d="M285.3,482.7 Q280.1,501.3 279.6,515.1"/>
<path d="M285.3,482.7 Q281.3,500.1 279.6,515.1"/>
<path d="M285.3,482.7 Q282.5,498.9 279.6,515.1"/>
<path d="M285.3,482.7 Q283.7,497.7 279.6,515.1"/>
<path d="M285.3,482.7 Q284.9,496.5 279.6,515.1"/>
<path d="M298.7,488.3 Q286.4,496.4 278.9,499.6"/>
<path d="M298.7,488.3 Q287.6,495.2 278.9,499.6"/>
<path d="M298.7,488.3 Q288.8,494.0 278.9,499.6"/>
<path d="M298.7,488.3 Q290.0,492.8 278.9,499.6"/>
<path d="M298.7,488.3 Q291.2,491.6 278.9,499.6"/>
<path d="M298.7,488.3 Q300.9,497.8 307.8,502.4"/>
<path d="M298.7,488.3 Q302.1,496.6 307.8,502.4"/>
<path d="M298.7,488.3 Q303.2,495.4 307.8,502.4"/>
<path d="M298.7,488.3 Q304.4,494.2 307.8,502.4"/>
<path d="M298.7,488.3 Q305.6,493.0 307.8,502.4"/>
<path d="M298.7,488.3 Q293.8,500.2 293.7,507.4"/>
<path d="M298.7,488.3 Q295.0,499.1 293.7,507.4"/>
<path d="M298.7,488.3 Q296.2,497.9 293.7,507.4"/>
<path d="M298.7,488.3 Q297.4,496.7 293.7,507.4"/>
<path d="M298.7,488.3 Q298.6,495.5 293.7,507.4"/>
<path d="M298.7,488.3 Q286.8,504.1 279.6,515.1"/>
<path d="M298.7,488.3 Q287.9,502.9 279.6,515.1"/>
<path d="M298.7,488.3 Q289.1,501.7 279.6,515.1"/>
<path d="M298.7,488.3 Q290.3,500.5 279.6,515.1"/>
<path d="M298.7,488.3 Q291.5,499.3 279.6,515.1"/>
<path d="M298.7,488.3 Q296.0,507.6 298.0,522.2"/>
<path d="M298.7,488.3 Q297.2,506.4 298.0,522.2"/>
<path d="M298.7,488.3 Q298.4,505.2 298.0,522.2"/>
<path d="M298.7,488.3 Q299.6,504.1 298.0,522.2"/>
<path d="M298.7,488.3 Q300.8,502.9 298.0,522.2"/>
<path d="M262.4,496.8 Q268.2,500.6 278.9,499.6"/>
<path d="M262.4,496.8 Q269.4,499.4 278.9,499.6"/>
<path d="M262.4,496.8 Q270.6,498.2 278.9,499.6"/>
<path d="M262.4,496.8 Q271.8,497.0 278.9,499.6"/>
<path d="M262.4,496.8 Q273.0,495.8 278.9,499.6"/>
<path d="M262.4,496.8 Q260.0,506.2 262.4,510.9"/>
<path d="M262.4,496.8 Q261.2,505.1 262.4,510.9"/>
<path d="M262.4,496.8 Q262.4,503.9 262.4,510.9"/>
<path d="M262.4,496.8 Q263.6,502.7 262.4,510.9"/>
<path d="M262.4,496.8 Q264.8,501.5 262.4,510.9"/>
<path d="M262.4,496.8 Q275.6,504.5 293.7,507.4"/>
<path d="M262.4,496.8 Q276.8,503.3 293.7,507.4"/>
<path d="M262.4,496.8 Q278.0,502.1 293.7,507.4"/>
<path d="M262.4,496.8 Q279.2,500.9 293.7,507.4"/>
<path d="M262.4,496.8 Q280.4,499.7 293.7,507.4"/>
<path d="M262.4,496.8 Q268.6,508.4 279.6,515.1"/>
<path d="M262.4,496.8 Q269.8,507.2 279.6,515.1"/>
<path d="M262.4,496.8 Q271.0,506.0 279.6,515.1"/>
<path d="M262.4,496.8 Q272.2,504.8 279.6,515.1"/>
<path d="M262.4,496.8 Q273.4,503.6 279.6,515.1"/>
<path d="M262.4,496.8 Q260.9,512.9 264.1,524.3"/>
<path d="M262.4,496.8 Q262.1,511.7 264.1,524.3"/>
<path d="M262.4,496.8 Q263.2,510.5 264.1,524.3"/>
<path d="M262.4,496.8 Q264.4,509.3 264.1,524.3"/>
<path d="M262.4,496.8 Q265.6,508.1 264.1,524.3"/>
<path d="M278.9,499.6 Q291.0,503.4 307.8,502.4"/>
<path d="M278.9,499.6 Q292.2,502.2 307.8,502.4"/>
<path d="M278.9,499.6 Q293.4,501.0 307.8,502.4"/>
<path d="M278.9,499.6 Q294.6,499.8 307.8,502.4"/>
<path d="M278.9,499.6 Q295.8,498.6 307.8,502.4"/>
<path d="M278.9,499.6 Q268.2,507.6 262.4,510.9"/>
<path d="M278.9,499.6 Q269.4,506.4 262.4,510.9"/>
<path d="M278.9,499.6 Q270.6,505.2 262.4,510.9"/>
<path d="M278.9,499.6 Q271.8,504.1 262.4,510.9"/>
<path d="M278.9,499.6 Q273.0,502.9 262.4,510.9"/>
<path d="M278.9,499.6 Q283.9,505.9 293.7,507.4"/>
<path d="M278.9,499.6 Q285.1,504.7 293.7,507.4"/>
<path d="M278.9,499.6 Q286.3,503.5 293.7,507.4"/>
<path d="M278.9,499.6 Q287.5,502.3 293.7,507.4"/>
<path d="M278.9,499.6 Q288.7,501.1 293.7,507.4"/>
<path d="M278.9,499.6 Q276.9,509.8 279.6,515.1"/>
<path d="M278.9,499.6 Q278.1,508.6 279.6,515.1"/>
<path d="M278.9,499.6 Q279.2,507.4 279.6,515.1"/>
<path d="M278.9,499.6 Q280.4,506.2 279.6,515.1"/>
<path d="M278.9,499.6 Q281.6,505.0 279.6,515.1"/>
<path d="M278.9,499.6 Q269.1,514.4 264.1,524.3"/>
<path d="M278.9,499.6 Q270.3,513.1 264.1,524.3"/>
<path d="M278.9,499.6 Q271.5,511.9 264.1,524.3"/>
<path d="M278.9,499.6 Q272.7,510.8 264.1,524.3"/>
<path d="M278.9,499.6 Q273.9,509.6 264.1,524.3"/>
<path d="M278.9,499.6 Q286.1,513.3 298.0,522.2"/>
<path d="M278.9,499.6 Q287.2,512.1 298.0,522.2"/>
<path d="M278.9,499.6 Q288.4,510.9 298.0,522.2"/>
<path d="M278.9,499.6 Q289.6,509.7 298.0,522.2"/>
<path d="M278.9,499.6 Q290.8,508.5 298.0,522.2"/>
<path d="M278.9,499.6 Q277.2,516.8 280.3,529.2"/>
<path d="M278.9,499.6 Q278.4,515.6 280.3,529.2"/>
<path d="M278.9,499.6 Q279.6,514.4 280.3,529.2"/>
<path d="M278.9,499.6 Q280.8,513.2 280.3,529.2"/>
<path d="M278.9,499.6 Q282.0,512.0 280.3,529.2"/>
<path d="M307.8,502.4 Q298.4,507.3 293.7,507.4"/>
<path d="M307.8,502.4 Q299.6,506.1 293.7,507.4"/>
<path d="M307.8,502.4 Q300.8,504.9 293.7,507.4"/>
<path d="M307.8,502.4 Q301.9,503.7 293.7,507.4"/>
<path d="M307.8,502.4 Q303.1,502.5 293.7,507.4"/>
<path d="M307.8,502.4 Q291.3,511.1 279.6,515.1"/>
<path d="M307.8,502.4 Q292.5,509.9 279.6,515.1"/>
<path d="M307.8,502.4 Q293.7,508.8 279.6,515.1"/>
<path d="M307.8,502.4 Q294.9,507.6 279.6,515.1"/>
<path d="M307.8,502.4 Q296.1,506.4 279.6,515.1"/>
<path d="M307.8,502.4 Q300.5,514.7 298.0,522.2"/>
<path d="M307.8,502.4 Q301.7,513.5 298.0,522.2"/>
<path d="M307.8,502.4 Q302.9,512.3 298.0,522.2"/>
<path d="M307.8,502.4 Q304.1,511.1 298.0,522.2"/>
<path d="M307.8,502.4 Q305.3,509.9 298.0,522.2"/>
<path d="M262.4,510.9 Q275.6,511.5 293.7,507.4"/>
<path d="M262.4,510.9 Q276.8,510.3 293.7,507.4"/>
<path d="M262.4,510.9 Q278.0,509.1 293.7,507.4"/>
<path d="M262.4,510.9 Q279.2,507.9 293.7,507.4"/>
<path d="M262.4,510.9 Q280.4,506.8 293.7,507.4"/>
<path d="M262.4,510.9 Q268.6,515.4 279.6,515.1"/>
<path d="M262.4,510.9 Q269.8,514.2 279.6,515.1"/>
<path d="M262.4,510.9 Q271.0,513.0 279.6,515.1"/>
<path d="M262.4,510.9 Q272.2,511.8 279.6,515.1"/>
<path d="M262.4,510.9 Q273.4,510.6 279.6,515.1"/>
<path d="M262.4,510.9 Q260.9,520.0 264.1,524.3"/>
<path d="M262.4,510.9 Q262.1,518.8 264.1,524.3"/>
<path d="M262.4,510.9 Q263.2,517.6 264.1,524.3"/>
<path d="M262.4,510.9 Q264.4,516.4 264.1,524.3"/>
<path d="M262.4,510.9 Q265.6,515.2 264.1,524.3"/>
<path d="M262.4,510.9 Q269.0,522.4 280.3,529.2"/>
<path d="M262.4,510.9 Q270.2,521.2 280.3,529.2"/>
<path d="M262.4,510.9 Q271.4,520.0 280.3,529.2"/>
<path d="M262.4,510.9 Q272.6,518.8 280.3,529.2"/>
<path d="M262.4,510.9 Q273.8,517.6 280.3,529.2"/>
<path d="M293.7,507.4 Q284.2,513.6 279.6,515.1"/>
<path d="M293.7,507.4 Q285.4,512.5 279.6,515.1"/>
<path d="M293.7,507.4 Q286.6,511.2 279.6,515.1"/>
<path d="M293.7,507.4 Q287.8,510.1 279.6,515.1"/>
<path d="M293.7,507.4 Q289.0,508.9 279.6,515.1"/>
<path d="M293.7,507.4 Q276.5,518.2 264.1,524.3"/>
<path d="M293.7,507.4 Q277.7,517.0 264.1,524.3"/>
<path d="M293.7,507.4 Q278.9,515.8 264.1,524.3"/>
<path d="M293.7,507.4 Q280.1,514.6 264.1,524.3"/>
<path d="M293.7,507.4 Q281.3,513.4 264.1,524.3"/>
<path d="M293.7,507.4 Q293.5,517.2 298.0,522.2"/>
<path d="M293.7,507.4 Q294.7,516.0 298.0,522.2"/>
<path d="M293.7,507.4 Q295.9,514.8 298.0,522.2"/>
<path d="M293.7,507.4 Q297.1,513.6 298.0,522.2"/>
<path d="M293.7,507.4 Q298.2,512.4 298.0,522.2"/>
<path d="M293.7,507.4 Q284.6,520.7 280.3,529.2"/>
<path d="M293.7,507.4 Q285.8,519.5 280.3,529.2"/>
<path d="M293.7,507.4 Q287.0,518.3 280.3,529.2"/>
<path d="M293.7,507.4 Q288.2,517.1 280.3,529.2"/>
<path d="M293.7,507.4 Q289.4,515.9 280.3,529.2"/>
<path d="M279.6,515.1 Q269.5,522.1 264.1,524.3"/>
<path d="M279.6,515.1 Q270.7,520.9 264.1,524.3"/>
<path d="M279.6,515.1 Q271.9,519.7 264.1,524.3"/>
<path d="M279.6,515.1 Q273.1,518.5 264.1,524.3"/>
<path d="M279.6,515.1 Q274.2,517.3 264.1,524.3"/>
<path d="M279.6,515.1 Q286.4,521.1 298.0,522.2"/>
<path d="M279.6,515.1 Q287.6,519.9 298.0,522.2"/>
<path d="M279.6,515.1 Q288.8,518.7 298.0,522.2"/>
<path d="M279.6,515.1 Q290.0,517.5 298.0,522.2"/>
<path d="M279.6,515.1 Q291.2,516.3 298.0,522.2"/>
<path d="M279.6,515.1 Q277.6,524.6 280.3,529.2"/>
<path d="M279.6,515.1 Q278.8,523.4 280.3,529.2"/>
<path d="M279.6,515.1 Q280.0,522.2 280.3,529.2"/>
<path d="M279.6,515.1 Q281.2,521.0 280.3,529.2"/>
<path d="M279.6,515.1 Q282.4,519.8 280.3,529.2"/>
<path d="M264.1,524.3 Q278.7,525.6 298.0,522.2"/>
<path d="M264.1,524.3 Q279.9,524.5 298.0,522.2"/>
<path d="M264.1,524.3 Q281.1,523.2 298.0,522.2"/>
<path d="M264.1,524.3 Q282.2,522.0 298.0,522.2"/>
<path d="M264.1,524.3 Q283.4,520.9 298.0,522.2"/>
<path d="M264.1,524.3 Q269.8,529.1 280.3,529.2"/>
<path d="M264.1,524.3 Q271.0,528.0 280.3,529.2"/>
<path d="M264.1,524.3 Q272.2,526.8 280.3,529.2"/>
<path d="M264.1,524.3 Q273.4,525.5 280.3,529.2"/>
<path d="M264.1,524.3 Q274.6,524.4 280.3,529.2"/>
<path d="M298.0,522.2 Q286.8,528.1 280.3,529.2"/>
<path d="M298.0,522.2 Q287.9,526.9 280.3,529.2"/>
<path d="M298.0,522.2 Q289.1,525.7 280.3,529.2"/>
<path d="M298.0,522.2 Q290.3,524.5 280.3,529.2"/>
<path d="M298.0,522.2 Q291.5,523.3 280.3,529.2"/>
</g>
<line x1="353.70" y1="530.80" x2="372.10" y2="504.90" stroke="#777" stroke-width="0.7"/>
<line x1="353.70" y1="530.80" x2="385.90" y2="540.00" stroke="#777" stroke-width="0.7"/>
<line x1="353.70" y1="530.80" x2="324.40" y2="549.10" stroke="#777" stroke-width="0.7"/>
<line x1="324.40" y1="549.10" x2="355.20" y2="564.20" stroke="#777" stroke-width="0.7"/>
<line x1="324.40" y1="549.10" x2="330.20" y2="581.30" stroke="#777" stroke-width="0.7"/>
<line x1="324.40" y1="549.10" x2="300.00" y2="573.00" stroke="#777" stroke-width="0.7"/>
<line x1="300.00" y1="573.00" x2="289.90" y2="602.20" stroke="#777" stroke-width="0.7"/>
<line x1="298.00" y1="522.20" x2="324.40" y2="549.10" stroke="#777" stroke-width="0.7"/>
<line x1="307.80" y1="502.40" x2="298.00" y2="522.20" stroke="#777" stroke-width="0.7"/>
<path d="M263.40,482.20 A7.1,7.1 0 0 1 277.60,482.20 Z" fill="#d64a34"/>
<path d="M263.40,482.20 A7.1,7.1 0 0 0 277.60,482.20 Z" fill="#3f7cbf"/>
<text x="270.50" y="483.40" font-size="3.6" font-weight="bold" fill="#1a1a1a" text-anchor="middle" textLength="12.42" lengthAdjust="spacingAndGlyphs">MRPL</text>
<path d="M278.20,482.70 A7.1,7.1 0 0 1 292.40,482.70 Z" fill="#d64a34"/>
<path d="M278.20,482.70 A7.1,7.1 0 0 0 292.40,482.70 Z" fill="#3f7cbf"/>
<text x="285.30" y="483.90" font-size="3.6" font-weight="bold" fill="#1a1a1a" text-anchor="middle" textLength="12.42" lengthAdjust="spacingAndGlyphs">MRPS</text>
<path d="M291.60,488.30 A7.1,7.1 0 0 1 305.80,488.30 Z" fill="#d64a34"/>
<path d="M291.60,488.30 A7.1,7.1 0 0 0 305.80,488.30 Z" fill="#3f7cbf"/>
<text x="298.70" y="489.50" font-size="3.6" font-weight="bold" fill="#1a1a1a" text-anchor="middle" textLength="12.42" lengthAdjust="spacingAndGlyphs">MRPL13</text>
<path d="M255.30,496.80 A7.1,7.1 0 0 1 269.50,496.80 Z" fill="#d64a34"/>
<path d="M255.30,496.80 A7.1,7.1 0 0 0 269.50,496.80 Z" fill="#3f7cbf"/>
<text x="262.40" y="498.00" font-size="3.6" font-weight="bold" fill="#1a1a1a" text-anchor="middle" textLength="12.42" lengthAdjust="spacingAndGlyphs">MRPS7</text>
<path d="M271.80,499.60 A7.1,7.1 0 0 1 286.00,499.60 Z" fill="#d64a34"/>
<path d="M271.80,499.60 A7.1,7.1 0 0 0 286.00,499.60 Z" fill="#3f7cbf"/>
<text x="278.90" y="500.80" font-size="3.6" font-weight="bold" fill="#1a1a1a" text-anchor="middle" textLength="12.42" lengthAdjust="spacingAndGlyphs">MRPL2</text>
<path d="M300.70,502.40 A7.1,7.1 0 0 1 314.90,502.40 Z" fill="#d64a34"/>
<path d="M300.70,502.40 A7.1,7.1 0 0 0 314.90,502.40 Z" fill="#3f7cbf"/>
<text x="307.80" y="503.60" font-size="3.6" font-weight="bold" fill="#1a1a1a" text-anchor="middle" textLength="12.42" lengthAdjust="spacingAndGlyphs">MRPL20</text>
<path d="M255.30,510.90 A7.1,7.1 0 0 1 269.50,510.90 Z" fill="#d64a34"/>
<path d="M255.30,510.90 A7.1,7.1 0 0 0 269.50,510.90 Z" fill="#3f7cbf"/>
<text x="262.40" y="512.10" font-size="3.6" font-weight="bold" fill="#1a1a1a" text-anchor="middle" textLength="12.42" lengthAdjust="spacingAndGlyphs">MRPS2</text>
<path d="M286.60,507.40 A7.1,7.1 0 0 1 300.80,507.40 Z" fill="#d64a34"/>
<path d="M286.60,507.40 A7.1,7.1 0 0 0 300.80,507.40 Z" fill="#3f7cbf"/>
<text x="293.70" y="508.60" font-size="3.6" font-weight="bold" fill="#1a1a1a" text-anchor="middle" textLength="12.42" lengthAdjust="spacingAndGlyphs">MRPL27</text>
<path d="M272.50,515.10 A7.1,7.1 0 0 1 286.70,515.10 Z" fill="#d64a34"/>
<path d="M272.50,515.10 A7.1,7.1 0 0 0 286.70,515.10 Z" fill="#3f7cbf"/>
<text x="279.60" y="516.30" font-size="3.6" font-weight="bold" fill="#1a1a1a" text-anchor="middle" textLength="12.42" lengthAdjust="spacingAndGlyphs">MRPS6</text>
<path d="M257.00,524.30 A7.1,7.1 0 0 1 271.20,524.30 Z" fill="#d64a34"/>
<path d="M257.00,524.30 A7.1,7.1 0 0 0 271.20,524.30 Z" fill="#3f7cbf"/>
<text x="264.10" y="525.50" font-size="3.6" font-weight="bold" fill="#1a1a1a" text-anchor="middle" textLength="12.42" lengthAdjust="spacingAndGlyphs">MRPL9</text>
<path d="M290.90,522.20 A7.1,7.1 0 0 1 305.10,522.20 Z" fill="#d64a34"/>
<path d="M290.90,522.20 A7.1,7.1 0 0 0 305.10,522.20 Z" fill="#3f7cbf"/>
<text x="298.00" y="523.40" font-size="3.6" font-weight="bold" fill="#1a1a1a" text-anchor="middle" textLength="12.42" lengthAdjust="spacingAndGlyphs">MRPL45</text>
<path d="M273.20,529.20 A7.1,7.1 0 0 1 287.40,529.20 Z" fill="#d64a34"/>
<path d="M273.20,529.20 A7.1,7.1 0 0 0 287.40,529.20 Z" fill="#3f7cbf"/>
<text x="280.30" y="530.40" font-size="3.6" font-weight="bold" fill="#1a1a1a" text-anchor="middle" textLength="12.42" lengthAdjust="spacingAndGlyphs">MRPS5</text>
<circle cx="372.10" cy="504.90" r="6.30" fill="#c8c8c8" stroke="none" stroke-width="0"/>
<text x="372.30" y="506.30" font-size="4" font-weight="normal" fill="#333" text-anchor="middle" textLength="14.00" lengthAdjust="spacingAndGlyphs">STRA13</text>
<circle cx="353.70" cy="530.80" r="7.30" fill="#3f7cbf" stroke="none" stroke-width="0"/>
<text x="353.80" y="532.20" font-size="4" font-weight="normal" fill="#222" text-anchor="middle" textLength="23.00" lengthAdjust="spacingAndGlyphs">HIST1H2BJ</text>
<circle cx="385.90" cy="540.00" r="6.80" fill="#3f7cbf" stroke="none" stroke-width="0"/>
<text x="387.10" y="541.40" font-size="4" font-weight="normal" fill="#222" text-anchor="middle" textLength="17.00" lengthAdjust="spacingAndGlyphs">HIST1H2A</text>
<circle cx="324.40" cy="549.10" r="7.00" fill="#c8c8c8" stroke="none" stroke-width="0"/>
<text x="324.30" y="550.50" font-size="4" font-weight="normal" fill="#222" text-anchor="middle" textLength="15.50" lengthAdjust="spacingAndGlyphs">POLR1C</text>
<circle cx="355.20" cy="564.20" r="6.00" fill="#c8c8c8" stroke="none" stroke-width="0"/>
<text x="355.10" y="565.60" font-size="4" font-weight="normal" fill="#333" text-anchor="middle" textLength="8.50" lengthAdjust="spacingAndGlyphs">GSS</text>
<circle cx="330.20" cy="581.30" r="6.50" fill="#c8c8c8" stroke="none" stroke-width="0"/>
<text x="330.50" y="582.70" font-size="4" font-weight="normal" fill="#333" text-anchor="middle" textLength="19.80" lengthAdjust="spacingAndGlyphs">EIF4EBP2</text>
<path d="M293.00,573.00 A7,7 0 0 1 307.00,573.00 Z" fill="#3f7cbf"/>
<path d="M293.00,573.00 A7,7 0 0 0 307.00,573.00 Z" fill="#3aa14e"/>
<text x="300.00" y="574.20" font-size="3.6" font-weight="bold" fill="#1a1a1a" text-anchor="middle" textLength="12.25" lengthAdjust="spacingAndGlyphs"></text>
<text x="300.50" y="574.40" font-size="4" font-weight="normal" fill="#222" text-anchor="middle" textLength="23.00" lengthAdjust="spacingAndGlyphs">NME1-NME2</text>
<path d="M282.90,602.20 A7,7 0 0 1 296.90,602.20 Z" fill="#3f7cbf"/>
<path d="M282.90,602.20 A7,7 0 0 0 296.90,602.20 Z" fill="#3aa14e"/>
<text x="289.90" y="603.40" font-size="3.4" font-weight="bold" fill="#1a1a1a" text-anchor="middle" textLength="12.25" lengthAdjust="spacingAndGlyphs"></text>
<text x="290.00" y="603.60" font-size="4" font-weight="normal" fill="#222" text-anchor="middle" textLength="10.00" lengthAdjust="spacingAndGlyphs">NME7</text>
<circle cx="398.30" cy="495.20" r="4.70" fill="#d64a34" stroke="none" stroke-width="0"/>
<circle cx="398.30" cy="505.80" r="4.70" fill="#4a78c0" stroke="none" stroke-width="0"/>
<circle cx="398.30" cy="516.30" r="4.70" fill="#3aa14e" stroke="none" stroke-width="0"/>
<text x="405.30" y="497.40" font-size="4.6" font-weight="bold" fill="#000" text-anchor="start" stroke="#000" stroke-width="0.18" textLength="62.50" lengthAdjust="spacingAndGlyphs">Mitochondrial gene expression</text>
<text x="405.30" y="505.00" font-size="4.6" font-weight="bold" fill="#000" text-anchor="start" stroke="#000" stroke-width="0.18" textLength="54.30" lengthAdjust="spacingAndGlyphs">Organonitrogen compound</text>
<text x="405.30" y="510.30" font-size="4.6" font-weight="bold" fill="#000" text-anchor="start" stroke="#000" stroke-width="0.18" textLength="36.70" lengthAdjust="spacingAndGlyphs">metabolic process</text>
<text x="405.30" y="518.50" font-size="4.6" font-weight="bold" fill="#000" text-anchor="start" stroke="#000" stroke-width="0.18" textLength="68.80" lengthAdjust="spacingAndGlyphs">Small molecule metabolic process</text>
<text x="254.80" y="601.80" font-size="8.6" font-weight="bold" fill="#000" text-anchor="start">g</text>
</svg></body></html>
